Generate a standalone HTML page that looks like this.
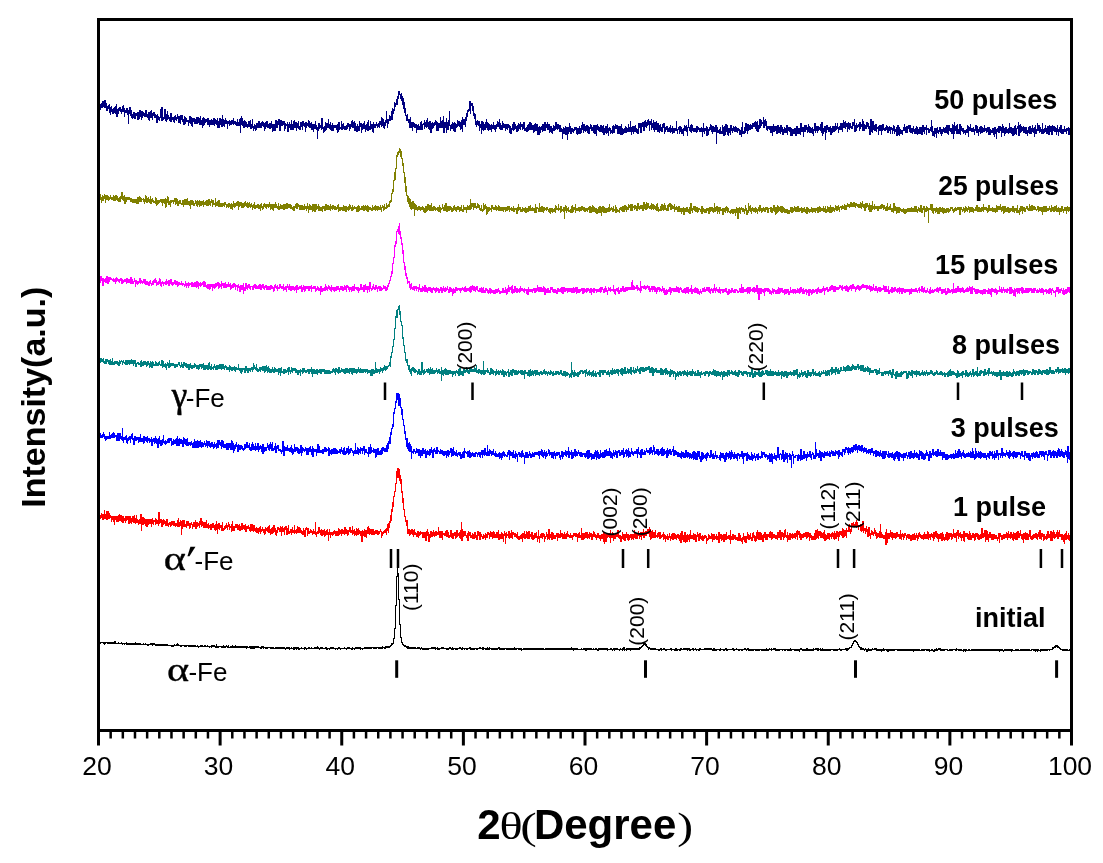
<!DOCTYPE html>
<html><head><meta charset="utf-8"><title>XRD patterns</title>
<style>
html,body{margin:0;padding:0;background:#fff;}
svg{display:block;}
text{font-family:"Liberation Sans",Arial,sans-serif;}
.lb{font-size:27px;font-weight:bold;}
.hk{font-size:21px;}
.tk{font-size:26.5px;}
.gr{font-family:"Liberation Serif",serif;}
</style></head><body>
<svg width="1103" height="863" viewBox="0 0 1103 863">
<rect width="1103" height="863" fill="#fff"/>

<path d="M98.5 105v2m1 -4v4m1 -3v6m1 -7v5m1 -7v7m1 -7v6m1 -7v8m1 -8v8m1 -5v8m1 -5v5m1 -6v4m1 -5v9m1 -6v8m1 -9v6m1 -3v5m1 -6v6m1 -7v6m1 -7v8m1 -10v13m1 -8v8m1 -9v6m1 -7v4m1 -4v5m1 -3v5m1 -8v6m1 -7v7m1 -4v9m1 -7v3m1 -5v5m1 -5v7m1 -5v14m1 -17v7m1 -7v9m1 -6v8m1 -4v5m1 -7v6m1 -6v7m1 -6v6m1 -6v3m1 -4v8m1 -8v8m1 -10v9m1 -9v7m1 -6v9m1 -9v7m1 -6v4m1 -3v4m1 -7v7m1 -7v7m1 -3v4m1 -6v8m1 -8v9m1 -10v7m1 -8v8m1 -5v7m1 -8v4m1 -4v6m1 -4v4m1 -3v8m1 -9v9m1 -7v4m1 -3v4m1 -12v9m1 -11v14m1 -14v14m1 -4v3m1 -11v10m1 -10v12m1 -7v8m1 -11v9m1 -5v4m1 -2v4m1 -8v9m1 -9v9m1 -5v3m1 -3v5m1 -6v7m1 -8v5m1 -3v4m1 -7v5m1 -3v7m1 -7v7m1 -8v9m1 -9v5m1 -5v7m1 -3v6m1 -9v9m1 -8v7m1 -6v4m1 -2v2m1 -2v6m1 -10v7m1 -7v8m1 -7v9m1 -8v9m1 -9v4m1 -4v6m1 -5v5m1 -7v7m1 -7v7m1 -7v6m1 -5v7m1 -9v9m1 -5v5m1 -7v10m1 -11v9m1 -8v7m1 -6v4m1 -4v3m1 -4v7m1 -7v7m1 -5v7m1 -7v5m1 -6v6m1 -5v5m1 -7v7m1 -7v8m1 -7v5m1 -4v5m1 -7v10m1 -7v7m1 -10v10m1 -10v7m1 -6v8m1 -12v12m1 -8v7m1 -6v7m1 -9v6m1 -4v4m1 -3v8m1 -8v3m1 -4v6m1 -5v4m1 -5v5m1 -5v4m1 -6v7m1 -4v3m1 -3v4m1 -3v4m1 -7v7m1 -4v4m1 -7v7m1 -8v15m1 -17v9m1 -7v8m1 -5v7m1 -8v8m1 -7v6m1 -5v5m1 -3v4m1 -7v6m1 -6v6m1 -7v9m1 -5v5m1 -10v9m1 -2v5m1 -7v5m1 -4v6m1 -8v7m1 -7v5m1 -7v7m1 -7v7m1 -5v5m1 -6v6m1 -7v5m1 -4v5m1 -4v8m1 -9v7m1 -8v6m1 -6v7m1 -4v4m1 -5v6m1 -6v6m1 -8v7m1 -4v8m1 -8v7m1 -7v7m1 -11v11m1 -11v8m1 -7v7m1 -9v6m1 -6v12m1 -11v11m1 -11v6m1 -5v5m1 -5v4m1 -4v10m1 -8v6m1 -5v2m1 -4v10m1 -8v8m1 -10v6m1 -4v6m1 -10v10m1 -6v6m1 -9v9m1 -10v8m1 -6v6m1 -6v9m1 -8v5m1 -7v8m1 -3v4m1 -8v8m1 -8v5m1 -6v9m1 -9v5m1 -3v4m1 -5v10m1 -10v6m1 -5v3m1 -6v7m1 -6v7m1 -5v5m1 -6v8m1 -6v6m1 -6v8m1 -8v5m1 -8v8m1 -4v5m1 -3v12m1 -16v8m1 -8v6m1 -4v3m1 -10v12m1 -12v11m1 -2v6m1 -7v6m1 -10v9m1 -8v7m1 -7v5m1 -9v9m1 -4v5m1 -7v8m1 -5v6m1 -8v8m1 -6v6m1 -6v3m1 -3v3m1 -3v5m1 -6v9m1 -11v10m1 -10v8m1 -3v2m1 -8v9m1 -6v6m1 -7v6m1 -3v4m1 -4v4m1 -5v5m1 -7v6m1 -6v4m1 -3v7m1 -7v5m1 -8v6m1 -7v8m1 -6v6m1 -7v10m1 -8v8m1 -5v6m1 -8v8m1 -6v5m1 -10v10m1 -8v4m1 -4v10m1 -9v6m1 -7v6m1 -8v8m1 -4v7m1 -8v6m1 -8v9m1 -11v11m1 -5v4m1 -9v9m1 -6v5m1 -5v8m1 -10v11m1 -9v4m1 -4v4m1 -6v4m1 -2v4m1 -5v4m1 -6v7m1 -7v4m1 -8v10m1 -9v8m1 -7v9m1 -6v7m1 -9v6m1 -15v12m1 -4v9m1 -9v5m1 -9v6m1 -5v5m1 -10v9m1 -12v12m1 -11v5m1 -12v9m1 -8v4m1 -8v6m1 -9v9m1 -14v8m1 -8v4m1 -1v5m1 -6v8m1 -5v9m1 -7v11m1 -7v11m1 -5v8m1 -1v6m1 -7v7m1 -2v4m1 -4v9m1 -11v11m1 -6v6m1 -6v9m1 -9v5m1 -4v5m1 -4v4m1 -4v9m1 -8v5m1 -6v6m1 -4v4m1 -8v8m1 -9v9m1 -6v6m1 -7v2m1 -5v9m1 -7v5m1 -7v8m1 -10v9m1 -5v7m1 -8v9m1 -9v12m1 -10v10m1 -11v7m1 -6v5m1 -6v4m1 -6v5m1 -4v10m1 -9v9m1 -8v8m1 -8v5m1 -11v11m1 -7v7m1 -8v8m1 -12v17m1 -11v11m1 -11v6m1 -10v15m1 -11v8m1 -10v10m1 -19v15m1 -1v6m1 -7v5m1 -7v7m1 -6v8m1 -9v10m1 -9v9m1 -8v4m1 -8v7m1 -6v5m1 -5v6m1 -5v8m1 -10v9m1 -12v15m1 -13v6m1 -6v6m1 -8v10m1 -14v8m1 -11v7m1 -8v3m1 -11v10m1 -10v13m1 -11v3m1 -3v8m1 -5v10m1 -3v6m1 -5v11m1 -4v6m1 -7v5m1 -4v5m1 -5v10m1 -7v4m1 -7v13m1 -13v9m1 -8v9m1 -7v6m1 -8v8m1 -11v9m1 -6v8m1 -7v8m1 -7v6m1 -5v5m1 -6v8m1 -7v4m1 -7v7m1 -4v5m1 -5v7m1 -8v5m1 -8v6m1 -5v5m1 -8v10m1 -6v7m1 -5v5m1 -9v9m1 -7v5m1 -4v4m1 -4v7m1 -7v5m1 -5v6m1 -6v4m1 -3v8m1 -7v8m1 -6v6m1 -10v6m1 -8v9m1 -9v8m1 -6v5m1 -3v6m1 -7v7m1 -9v8m1 -7v5m1 -7v8m1 -6v3m1 -3v6m1 -8v7m1 -7v9m1 -3v3m1 -4v5m1 -7v7m1 -8v7m1 -9v8m1 -8v8m1 -7v7m1 -5v5m1 -5v8m1 -9v8m1 -9v8m1 -7v7m1 -7v11m1 -8v8m1 -9v9m1 -8v6m1 -7v4m1 -6v8m1 -8v7m1 -9v9m1 -9v9m1 -7v4m1 -6v8m1 -6v6m1 -6v9m1 -7v6m1 -6v7m1 -5v6m1 -9v6m1 -5v5m1 -9v8m1 -8v7m1 -5v6m1 -6v5m1 -4v7m1 -7v7m1 -4v4m1 -3v10m1 -12v7m1 -6v6m1 -8v9m1 -8v8m1 -8v13m1 -13v7m1 -11v9m1 -6v8m1 -6v6m1 -6v4m1 -3v4m1 -6v4m1 -4v3m1 -3v7m1 -6v7m1 -7v6m1 -8v8m1 -6v6m1 -9v8m1 -11v8m1 -6v9m1 -9v7m1 -5v6m1 -7v6m1 -6v8m1 -7v8m1 -7v7m1 -10v5m1 -4v6m1 -4v4m1 -6v8m1 -8v9m1 -9v9m1 -9v11m1 -12v6m1 -4v5m1 -4v5m1 -7v7m1 -7v7m1 -6v7m1 -8v10m1 -7v7m1 -9v7m1 -7v8m1 -10v9m1 -5v8m1 -9v4m1 -3v6m1 -4v3m1 -7v8m1 -9v8m1 -7v7m1 -9v5m1 -4v4m1 -4v9m1 -8v8m1 -8v8m1 -8v9m1 -11v11m1 -7v7m1 -6v5m1 -6v5m1 -7v7m1 -6v6m1 -5v4m1 -8v8m1 -5v5m1 -11v11m1 -5v8m1 -9v6m1 -6v8m1 -8v6m1 -7v7m1 -4v5m1 -4v5m1 -11v11m1 -11v5m1 -5v10m1 -10v10m1 -11v5m1 -5v9m1 -10v10m1 -11v7m1 -5v6m1 -8v6m1 -7v6m1 -4v10m1 -10v4m1 -6v11m1 -7v5m1 -8v10m1 -8v10m1 -10v8m1 -9v9m1 -7v9m1 -9v9m1 -7v8m1 -9v7m1 -4v5m1 -8v8m1 -9v5m1 -5v11m1 -7v5m1 -6v4m1 -4v6m1 -4v4m1 -5v5m1 -7v8m1 -5v4m1 -6v8m1 -6v5m1 -5v5m1 -5v3m1 -10v10m1 -2v5m1 -7v3m1 -4v8m1 -8v6m1 -5v7m1 -5v5m1 -6v8m1 -11v6m1 -5v5m1 -6v7m1 -5v9m1 -17v9m1 -1v4m1 -6v7m1 -8v9m1 -8v6m1 -3v4m1 -4v4m1 -4v4m1 -6v7m1 -7v6m1 -5v3m1 -2v4m1 -4v4m1 -5v5m1 -4v9m1 -14v9m1 -4v6m1 -6v3m1 -5v10m1 -9v9m1 -7v6m1 -8v4m1 -7v6m1 -5v7m1 -6v8m1 -8v6m1 -5v5m1 -7v7m1 -7v19m1 -17v6m1 -3v3m1 -4v5m1 -7v7m1 -3v3m1 -9v9m1 -7v9m1 -10v10m1 -12v11m1 -11v8m1 -7v10m1 -7v8m1 -8v5m1 -8v10m1 -10v6m1 -3v5m1 -7v5m1 -4v5m1 -6v6m1 -5v5m1 -4v5m1 -5v3m1 -2v6m1 -5v5m1 -8v10m1 -15v12m1 -3v3m1 -7v7m1 -11v10m1 -10v8m1 -7v10m1 -10v7m1 -6v5m1 -6v6m1 -5v4m1 -6v6m1 -6v4m1 -5v5m1 -6v8m1 -7v9m1 -10v11m1 -7v7m1 -13v10m1 -10v9m1 -8v6m1 -4v2m1 -7v11m1 -8v8m1 -9v7m1 -5v9m1 -4v5m1 -5v3m1 -3v4m1 -4v7m1 -7v7m1 -7v10m1 -12v8m1 -6v6m1 -6v5m1 -5v8m1 -9v9m1 -9v8m1 -6v6m1 -8v9m1 -9v7m1 -5v8m1 -6v6m1 -8v6m1 -5v5m1 -8v8m1 -8v10m1 -8v4m1 -4v5m1 -5v9m1 -8v8m1 -7v7m1 -7v5m1 -6v6m1 -6v8m1 -10v10m1 -10v8m1 -6v6m1 -6v6m1 -11v12m1 -12v9m1 -5v5m1 -5v10m1 -12v7m1 -7v7m1 -7v5m1 -3v6m1 -9v8m1 -6v7m1 -6v6m1 -5v5m1 -6v7m1 -5v7m1 -13v8m1 -8v10m1 -7v5m1 -5v7m1 -7v5m1 -4v3m1 -6v7m1 -9v11m1 -11v14m1 -8v6m1 -8v6m1 -6v14m1 -15v8m1 -8v5m1 -3v5m1 -5v5m1 -6v9m1 -7v7m1 -9v7m1 -7v6m1 -6v6m1 -9v8m1 -5v4m1 -7v6m1 -2v6m1 -7v4m1 -7v7m1 -7v7m1 -7v9m1 -12v8m1 -6v6m1 -7v8m1 -6v4m1 -4v9m1 -10v7m1 -6v7m1 -7v5m1 -2v3m1 -7v7m1 -7v4m1 -7v13m1 -7v7m1 -9v8m1 -6v3m1 -4v3m1 -5v9m1 -9v7m1 -5v3m1 -8v12m1 -10v10m1 -7v7m1 -6v4m1 -7v7m1 -7v5m1 -4v6m1 -3v9m1 -16v16m1 -16v13m1 -11v12m1 -12v9m1 -5v6m1 -7v7m1 -7v8m1 -5v2m1 -3v9m1 -10v6m1 -6v6m1 -6v10m1 -11v7m1 -7v6m1 -2v3m1 -4v4m1 -6v5m1 -4v7m1 -6v6m1 -7v5m1 -4v7m1 -7v3m1 -2v6m1 -9v6m1 -5v8m1 -5v3m1 -5v9m1 -11v11m1 -11v10m1 -8v9m1 -7v5m1 -4v4m1 -4v5m1 -8v4m1 -7v7m1 -4v6m1 -7v7m1 -7v7m1 -8v4m1 -4v7m1 -7v8m1 -5v5m1 -5v6m1 -8v6m1 -3v5m1 -6v6m1 -8v8m1 -7v8m1 -6v5m1 -7v7m1 -7v7m1 -7v8m1 -10v10m1 -10v7m1 -5v7m1 -7v3m1 -5v10m1 -7v2m1 -2v5m1 -4v4m1 -6v4m1 -11v12m1 -6v10m1 -5v5m1 -8v9m1 -9v6m1 -6v10m1 -11v6m1 -3v4m1 -7v5m1 -5v7m1 -5v7m1 -7v5m1 -7v5m1 -4v5m1 -6v6m1 -8v8m1 -8v9m1 -9v10m1 -10v6m1 -3v4m1 -4v6m1 -10v10m1 -9v14m1 -17v12m1 -8v5m1 -6v9m1 -10v10m1 -5v5m1 -10v10m1 -10v11m1 -9v5m1 -3v4m1 -4v6m1 -4v3m1 -3v5m1 -6v4m1 -8v8m1 -7v11m1 -10v4m1 -7v7m1 -3v4m1 -4v4m1 -5v5m1 -3v6m1 -10v6m1 -6v8m1 -7v7m1 -4v7m1 -9v5m1 -6v8m1 -8v7m1 -6v6m1 -5v4m1 -7v7m1 -4v3m1 -3v5m1 -6v5m1 -5v8m1 -8v8m1 -6v6m1 -5v3m1 -5v5m1 -5v7m1 -8v10m1 -10v7m1 -5v10m1 -11v4m1 -6v7m1 -7v7m1 -7v5m1 -4v10m1 -13v9m1 -7v7m1 -5v8m1 -9v7m1 -7v6m1 -4v4m1 -5v6m1 -11v10m1 -6v6m1 -6v7m1 -6v8m1 -8v8m1 -10v9m1 -10v9m1 -6v7m1 -9v3m1 -7v14m1 -11v11m1 -12v9m1 -7v6m1 -5v4m1 -5v7m1 -6v6m1 -6v7m1 -7v7m1 -4v6m1 -9v6m1 -7v8m1 -8v8m1 -6v6m1 -9v7m1 -4v5m1 -6v10m1 -12v9m1 -5v5m1 -11v8m1 -6v6m1 -6v8m1 -6v5m1 -3v5m1 -11v11m1 -5v5m1 -6v5m1 -8v7m1 -4v6m1 -8v8m1 -8v9m1 -10v10m1 -9v6m1 -6v9m1 -10v10m1 -9v5m1 -5v6m1 -5v5m1 -4v7m1 -10v7m1 -3v7m1 -9v5m1 -7v8m1 -8v9m1 -5v5m1 -5v5m1 -8v6m1 -3v3m1 -4v6m1 -6v3m1 -4v8m1 -7v7m1 -7v7m1 -8v8" fill="none" stroke="#000080" stroke-width="1" shape-rendering="crispEdges"/>
<path d="M98.5 197v3m1 -6v8m1 -8v6m1 -3v6m1 -8v6m1 -5v5m1 -7v5m1 -4v8m1 -8v5m1 -5v5m1 -4v5m1 -4v3m1 -5v4m1 -2v3m1 -3v3m1 -5v6m1 -5v5m1 -6v6m1 -6v5m1 -4v5m1 -3v4m1 -5v5m1 -6v6m1 -10v7m1 -7v8m1 -4v5m1 -6v9m1 -7v7m1 -7v5m1 -5v3m1 -3v3m1 -3v3m1 -2v4m1 -4v4m1 -3v4m1 -4v4m1 -4v4m1 -4v4m1 -4v5m1 -7v7m1 -7v7m1 -8v6m1 -5v5m1 -4v4m1 -3v1m1 -2v4m1 -3v5m1 -9v7m1 -6v7m1 -5v5m1 -6v5m1 -3v4m1 -7v8m1 -5v5m1 -6v4m1 -2v3m1 -2v2m1 -6v7m1 -6v8m1 -6v5m1 -5v4m1 -4v3m1 -4v3m1 -3v4m1 -4v7m1 -7v4m1 -4v5m1 -6v10m1 -9v8m1 -11v7m1 -6v8m1 -4v4m1 -5v7m1 -7v3m1 -3v2m1 -2v4m1 -6v4m1 -4v7m1 -7v6m1 -5v7m1 -5v5m1 -6v4m1 -4v4m1 -1v2m1 -5v5m1 -5v7m1 -8v6m1 -6v6m1 -6v6m1 -7v7m1 -4v4m1 -4v5m1 -6v9m1 -9v5m1 -5v5m1 -4v5m1 -3v3m1 -6v4m1 -3v5m1 -6v7m1 -6v4m1 -5v7m1 -6v5m1 -5v5m1 -5v4m1 -5v7m1 -5v3m1 -4v4m1 -5v6m1 -6v6m1 -7v7m1 -7v6m1 -4v5m1 -7v4m1 -3v7m1 -7v5m1 -2v2m1 -7v9m1 -5v4m1 -5v5m1 -6v7m1 -7v7m1 -4v4m1 -4v4m1 -4v4m1 -4v3m1 -4v5m1 -5v3m1 -1v4m1 -4v3m1 -4v5m1 -5v4m1 -3v5m1 -6v6m1 -5v6m1 -9v6m1 -4v5m1 -5v4m1 -5v4m1 -5v5m1 -5v9m1 -8v5m1 -5v4m1 -4v6m1 -5v5m1 -5v5m1 -6v5m1 -6v5m1 -3v4m1 -5v6m1 -5v5m1 -6v5m1 -3v4m1 -5v4m1 -2v5m1 -6v4m1 -6v7m1 -4v4m1 -4v3m1 -4v4m1 -4v5m1 -4v4m1 -5v7m1 -8v5m1 -2v4m1 -6v5m1 -6v4m1 -3v4m1 -4v5m1 -5v3m1 -3v4m1 -6v5m1 -3v6m1 -6v5m1 -5v6m1 -6v7m1 -7v4m1 -6v6m1 -4v4m1 -2v3m1 -6v7m1 -4v4m1 -6v5m1 -4v4m1 -4v4m1 -5v6m1 -6v6m1 -6v5m1 -6v6m1 -6v6m1 -5v4m1 -4v4m1 -4v5m1 -4v4m1 -2v3m1 -4v5m1 -5v5m1 -7v4m1 -5v6m1 -6v6m1 -5v3m1 -2v5m1 -5v5m1 -5v5m1 -5v5m1 -4v4m1 -6v6m1 -4v3m1 -3v5m1 -8v6m1 -3v7m1 -9v6m1 -5v5m1 -4v4m1 -6v8m1 -8v7m1 -7v8m1 -8v8m1 -8v6m1 -4v3m1 -5v7m1 -5v5m1 -4v4m1 -4v4m1 -5v6m1 -6v3m1 -3v5m1 -7v7m1 -7v6m1 -5v5m1 -5v5m1 -4v4m1 -6v7m1 -5v3m1 -4v5m1 -5v4m1 -3v4m1 -4v4m1 -3v3m1 -5v4m1 -5v8m1 -5v4m1 -4v4m1 -4v3m1 -3v4m1 -6v6m1 -5v5m1 -5v6m1 -6v6m1 -5v3m1 -4v5m1 -7v6m1 -5v4m1 -2v4m1 -6v6m1 -4v3m1 -4v3m1 -2v2m1 -2v5m1 -6v6m1 -7v7m1 -6v5m1 -3v2m1 -4v4m1 -4v4m1 -5v6m1 -5v5m1 -6v5m1 -4v5m1 -6v7m1 -6v6m1 -5v3m1 -3v3m1 -2v3m1 -6v6m1 -4v3m1 -4v4m1 -5v6m1 -5v4m1 -4v5m1 -5v4m1 -3v3m1 -5v5m1 -3v5m1 -7v3m1 -2v5m1 -7v6m1 -3v2m1 -6v6m1 -4v3m1 -4v3m1 -6v6m1 -7v3m1 -10v9m1 -13v5m1 -14v12m1 -20v9m1 -13v12m1 -25v14m1 -17v5m1 -6v4m1 -7v5m1 -4v8m1 -6v8m1 -1v8m1 -3v10m1 -1v11m1 -6v15m1 -6v10m1 -1v7m1 -6v8m1 -6v9m1 -8v10m1 -7v8m1 -9v8m1 -8v8m1 -6v13m1 -12v6m1 -5v5m1 -3v4m1 -5v4m1 -4v4m1 -3v4m1 -4v3m1 -4v4m1 -3v5m1 -4v5m1 -7v7m1 -7v6m1 -8v7m1 -7v6m1 -5v6m1 -6v6m1 -8v8m1 -4v4m1 -5v5m1 -5v4m1 -3v4m1 -3v2m1 -3v4m1 -4v5m1 -7v7m1 -5v6m1 -5v2m1 -6v5m1 -2v4m1 -6v6m1 -8v8m1 -8v9m1 -6v6m1 -6v5m1 -5v5m1 -5v4m1 -3v5m1 -4v4m1 -6v5m1 -6v5m1 -3v4m1 -4v5m1 -6v4m1 -4v4m1 -3v5m1 -5v4m1 -6v6m1 -2v3m1 -7v7m1 -5v3m1 -3v3m1 -3v6m1 -8v5m1 -4v4m1 -5v5m1 -11v11m1 -7v6m1 -6v4m1 -4v7m1 -7v5m1 -5v5m1 -2v3m1 -6v5m1 -4v4m1 -3v5m1 -2v3m1 -6v6m1 -2v3m1 -9v8m1 -6v5m1 -6v5m1 -3v9m1 -8v7m1 -7v5m1 -5v4m1 -3v2m1 -5v7m1 -7v4m1 -2v3m1 -3v3m1 -5v5m1 -4v5m1 -4v3m1 -5v6m1 -5v5m1 -4v4m1 -4v4m1 -4v4m1 -4v5m1 -5v3m1 -3v5m1 -5v4m1 -5v5m1 -5v4m1 -4v6m1 -4v2m1 -3v4m1 -3v3m1 -5v6m1 -4v4m1 -4v2m1 -2v6m1 -7v7m1 -10v7m1 -4v3m1 -3v5m1 -3v3m1 -5v5m1 -4v3m1 -3v4m1 -5v6m1 -5v5m1 -5v4m1 -6v6m1 -6v5m1 -6v6m1 -3v3m1 -4v4m1 -3v3m1 -3v5m1 -9v9m1 -6v6m1 -6v2m1 -1v4m1 -9v9m1 -5v5m1 -6v6m1 -6v6m1 -5v6m1 -6v4m1 -3v2m1 -3v4m1 -4v3m1 -1v3m1 -4v5m1 -5v6m1 -6v4m1 -4v5m1 -4v3m1 -4v4m1 -7v8m1 -7v4m1 -2v2m1 -6v7m1 -3v2m1 -4v7m1 -7v6m1 -3v2m1 -4v5m1 -5v12m1 -14v6m1 -5v7m1 -5v3m1 -4v5m1 -2v2m1 -3v4m1 -7v7m1 -8v8m1 -6v5m1 -5v3m1 -6v9m1 -5v3m1 -3v3m1 -4v4m1 -4v5m1 -5v4m1 -5v5m1 -5v4m1 -3v4m1 -4v5m1 -4v4m1 -4v3m1 -3v4m1 -5v3m1 -4v7m1 -7v7m1 -6v6m1 -8v7m1 -6v6m1 -5v5m1 -4v5m1 -5v6m1 -5v5m1 -7v6m1 -7v7m1 -7v7m1 -6v9m1 -10v6m1 -6v7m1 -6v6m1 -5v5m1 -5v5m1 -5v4m1 -5v5m1 -8v8m1 -4v3m1 -4v3m1 -2v4m1 -6v6m1 -3v2m1 -6v8m1 -6v6m1 -4v3m1 -2v2m1 -4v5m1 -6v3m1 -3v4m1 -5v6m1 -6v6m1 -7v7m1 -7v5m1 -4v6m1 -5v3m1 -6v6m1 -5v3m1 -4v7m1 -7v7m1 -7v7m1 -5v2m1 -3v5m1 -5v4m1 -3v5m1 -8v8m1 -8v6m1 -3v4m1 -5v4m1 -4v4m1 -4v6m1 -9v9m1 -9v7m1 -5v6m1 -8v8m1 -7v6m1 -6v5m1 -2v3m1 -4v4m1 -6v7m1 -6v5m1 -5v6m1 -5v4m1 -3v4m1 -6v7m1 -8v8m1 -4v5m1 -3v2m1 -5v5m1 -7v7m1 -7v6m1 -5v6m1 -8v7m1 -5v5m1 -2v3m1 -6v6m1 -7v7m1 -8v4m1 -4v7m1 -6v6m1 -5v4m1 -3v3m1 -5v8m1 -5v3m1 -4v4m1 -3v5m1 -6v6m1 -6v6m1 -4v4m1 -4v6m1 -6v4m1 -5v8m1 -7v7m1 -7v4m1 -5v5m1 -5v5m1 -3v4m1 -6v7m1 -11v11m1 -11v8m1 -3v5m1 -7v4m1 -4v5m1 -5v6m1 -5v5m1 -5v6m1 -5v4m1 -4v2m1 -1v3m1 -6v8m1 -8v8m1 -6v4m1 -3v4m1 -4v4m1 -5v5m1 -5v3m1 -3v6m1 -7v7m1 -7v5m1 -5v4m1 -4v5m1 -4v5m1 -10v9m1 -5v5m1 -6v5m1 -5v8m1 -7v5m1 -5v7m1 -7v4m1 -2v2m1 -3v7m1 -7v7m1 -7v4m1 -5v6m1 -7v5m1 -4v6m1 -5v4m1 -1v2m1 -3v4m1 -5v4m1 -4v5m1 -5v5m1 -5v4m1 -4v7m1 -9v6m1 -5v11m1 -11v11m1 -12v6m1 -5v6m1 -7v3m1 -2v4m1 -4v4m1 -3v5m1 -9v6m1 -3v7m1 -5v5m1 -12v10m1 -7v5m1 -6v7m1 -4v6m1 -7v4m1 -3v4m1 -4v4m1 -5v6m1 -5v4m1 -3v5m1 -7v4m1 -6v7m1 -7v6m1 -3v5m1 -5v4m1 -5v4m1 -3v4m1 -5v5m1 -5v3m1 -3v6m1 -5v5m1 -5v1m1 -2v5m1 -5v6m1 -5v5m1 -8v6m1 -6v7m1 -5v8m1 -8v7m1 -9v8m1 -7v6m1 -5v4m1 -5v6m1 -6v7m1 -7v7m1 -6v5m1 -4v5m1 -4v4m1 -4v4m1 -4v5m1 -4v4m1 -4v4m1 -7v5m1 -5v6m1 -6v6m1 -5v4m1 -6v5m1 -4v5m1 -5v5m1 -6v6m1 -6v6m1 -4v4m1 -4v3m1 -4v6m1 -5v5m1 -5v4m1 -5v5m1 -3v4m1 -6v7m1 -7v7m1 -6v4m1 -3v4m1 -4v3m1 -5v5m1 -4v5m1 -5v4m1 -4v4m1 -4v5m1 -5v3m1 -4v6m1 -6v6m1 -7v6m1 -5v5m1 -4v3m1 -3v3m1 -5v6m1 -4v4m1 -6v7m1 -4v4m1 -7v6m1 -5v5m1 -5v6m1 -8v8m1 -6v6m1 -6v5m1 -5v4m1 -3v4m1 -7v5m1 -4v5m1 -5v5m1 -6v5m1 -3v5m1 -6v2m1 -2v4m1 -5v4m1 -3v3m1 -5v6m1 -5v5m1 -5v5m1 -7v4m1 -3v3m1 -3v4m1 -6v5m1 -5v5m1 -4v4m1 -5v5m1 -5v5m1 -4v5m1 -5v3m1 -2v3m1 -3v4m1 -4v4m1 -6v6m1 -5v6m1 -8v6m1 -3v4m1 -4v7m1 -8v8m1 -8v5m1 -5v4m1 -2v5m1 -7v9m1 -7v7m1 -7v7m1 -11v9m1 -4v3m1 -5v6m1 -4v3m1 -3v3m1 -3v5m1 -5v5m1 -5v3m1 -4v4m1 -5v5m1 -5v4m1 -3v5m1 -5v4m1 -2v4m1 -5v5m1 -8v8m1 -4v3m1 -4v4m1 -6v6m1 -2v4m1 -4v4m1 -9v10m1 -10v8m1 -5v5m1 -4v7m1 -7v6m1 -6v6m1 -6v6m1 -5v3m1 -2v3m1 -3v3m1 -4v5m1 -4v5m1 -5v5m1 -5v4m1 -5v4m1 -4v4m1 -4v4m1 -4v4m1 -5v5m1 -4v4m1 -4v4m1 -6v6m1 -6v6m1 -6v6m1 -3v4m1 -6v4m1 -3v4m1 -7v7m1 -7v8m1 -5v5m1 -7v4m1 -4v11m1 -9v4m1 -6v6m1 -5v4m1 -3v15m1 -15v2m1 -6v6m1 -6v7m1 -7v9m1 -5v6m1 -6v3m1 -3v5m1 -6v5m1 -4v6m1 -6v6m1 -7v7m1 -7v5m1 -4v4m1 -5v6m1 -5v6m1 -6v5m1 -4v4m1 -5v5m1 -5v4m1 -4v5m1 -4v3m1 -5v4m1 -4v2m1 -2v4m1 -2v4m1 -5v4m1 -5v4m1 -3v3m1 -4v3m1 -3v3m1 -3v8m1 -8v8m1 -8v3m1 -1v3m1 -5v4m1 -3v5m1 -7v6m1 -5v4m1 -3v4m1 -6v4m1 -3v6m1 -6v5m1 -5v5m1 -5v5m1 -4v5m1 -4v2m1 -4v4m1 -6v6m1 -6v7m1 -5v5m1 -5v5m1 -4v4m1 -5v5m1 -5v4m1 -7v8m1 -5v3m1 -3v3m1 -3v4m1 -3v5m1 -8v7m1 -7v6m1 -3v3m1 -3v3m1 -4v5m1 -4v4m1 -4v4m1 -4v5m1 -8v7m1 -6v6m1 -6v4m1 -4v4m1 -6v6m1 -3v5m1 -6v5m1 -5v8m1 -8v7m1 -7v6m1 -4v4m1 -5v5m1 -5v6m1 -5v5m1 -5v4m1 -4v3m1 -5v6m1 -6v6m1 -4v5m1 -5v3m1 -3v5m1 -8v8m1 -3v3m1 -5v7m1 -9v6m1 -6v5m1 -5v8m1 -7v4m1 -4v5m1 -4v4m1 -6v3m1 -3v4m1 -2v3m1 -7v7m1 -5v5m1 -6v6m1 -6v6m1 -5v4m1 -4v4m1 -3v3m1 -1v2m1 -5v4m1 -4v6m1 -5v4m1 -4v4m1 -4v5m1 -5v8m1 -9v6m1 -6v6m1 -6v6m1 -6v6m1 -4v3m1 -3v3m1 -5v4m1 -2v4m1 -7v7m1 -5v4m1 -4v5m1 -6v6m1 -6v5m1 -6v7m1 -4v4m1 -5v5m1 -4v7m1 -7v4m1 -6v6m1 -6v5m1 -2v4m1 -6v4m1 -4v4m1 -4v7m1 -8v5m1 -4v5m1 -5v4m1 -3v3m1 -3v6" fill="none" stroke="#808000" stroke-width="1" shape-rendering="crispEdges"/>
<path d="M98.5 277v4m1 -5v6m1 -6v7m1 -7v5m1 -3v8m1 -8v8m1 -7v3m1 -4v5m1 -7v7m1 -7v8m1 -7v7m1 -7v5m1 -5v3m1 -2v2m1 -1v2m1 -3v4m1 -3v3m1 -4v6m1 -7v5m1 -4v3m1 -2v3m1 -3v4m1 -5v3m1 -3v6m1 -5v5m1 -4v3m1 -4v3m1 -3v3m1 -4v6m1 -6v5m1 -4v4m1 -4v4m1 -6v7m1 -7v7m1 -5v5m1 -3v3m1 -6v4m1 -2v7m1 -7v4m1 -3v4m1 -4v3m1 -6v5m1 -5v6m1 -4v3m1 -2v3m1 -5v4m1 -4v5m1 -5v6m1 -4v4m1 -4v4m1 -3v4m1 -5v5m1 -6v4m1 -1v3m1 -5v4m1 -5v5m1 -6v4m1 -5v5m1 -3v6m1 -4v3m1 -4v4m1 -7v6m1 -5v7m1 -4v5m1 -6v3m1 -2v4m1 -4v2m1 -3v4m1 -6v6m1 -4v3m1 -4v6m1 -6v6m1 -7v5m1 -5v6m1 -3v4m1 -4v3m1 -5v4m1 -4v5m1 -4v4m1 -4v6m1 -5v4m1 -4v3m1 -2v2m1 -4v4m1 -2v3m1 -3v2m1 -1v3m1 -6v5m1 -3v5m1 -5v3m1 -4v6m1 -5v3m1 -3v2m1 -3v5m1 -5v5m1 -4v4m1 -5v5m1 -5v5m1 -6v7m1 -7v6m1 -5v7m1 -6v3m1 -4v5m1 -4v3m1 -4v3m1 -4v6m1 -6v6m1 -5v5m1 -2v3m1 -4v5m1 -5v5m1 -5v6m1 -6v5m1 -5v3m1 -3v7m1 -7v4m1 -4v5m1 -6v5m1 -5v4m1 -5v4m1 -4v7m1 -6v5m1 -4v3m1 -6v8m1 -6v3m1 -3v5m1 -5v5m1 -6v6m1 -4v4m1 -4v3m1 -5v5m1 -3v3m1 -4v7m1 -5v4m1 -5v4m1 -5v5m1 -5v4m1 -3v6m1 -5v2m1 -2v6m1 -7v4m1 -2v6m1 -7v7m1 -7v5m1 -5v5m1 -7v11m1 -7v4m1 -8v8m1 -8v6m1 -4v5m1 -6v4m1 -4v5m1 -3v4m1 -4v1m1 -1v4m1 -5v5m1 -6v4m1 -4v5m1 -4v4m1 -3v3m1 -4v4m1 -5v5m1 -5v6m1 -5v5m1 -6v4m1 -4v5m1 -3v4m1 -5v3m1 -3v5m1 -4v4m1 -4v4m1 -4v4m1 -5v5m1 -5v4m1 -3v3m1 -2v5m1 -7v6m1 -7v4m1 -2v3m1 -4v6m1 -4v2m1 -5v5m1 -5v4m1 -2v3m1 -3v3m1 -5v7m1 -4v3m1 -4v4m1 -4v6m1 -8v4m1 -2v4m1 -6v6m1 -4v5m1 -5v5m1 -5v4m1 -4v4m1 -3v4m1 -5v4m1 -5v8m1 -8v5m1 -3v3m1 -4v3m1 -3v3m1 -4v7m1 -5v5m1 -7v5m1 -4v6m1 -6v5m1 -5v3m1 -3v3m1 -3v5m1 -5v5m1 -5v3m1 -4v7m1 -5v2m1 -3v3m1 -3v3m1 -3v6m1 -4v3m1 -5v4m1 -3v4m1 -3v3m1 -5v9m1 -9v6m1 -4v4m1 -4v3m1 -4v4m1 -7v7m1 -5v4m1 -3v4m1 -6v4m1 -3v4m1 -3v4m1 -6v7m1 -5v3m1 -3v4m1 -4v5m1 -5v4m1 -5v5m1 -5v4m1 -4v4m1 -2v4m1 -6v4m1 -4v4m1 -4v5m1 -4v4m1 -6v5m1 -4v4m1 -5v7m1 -7v3m1 -2v4m1 -3v5m1 -5v3m1 -3v5m1 -6v5m1 -5v5m1 -7v7m1 -4v2m1 -2v3m1 -3v4m1 -4v6m1 -5v3m1 -7v6m1 -6v6m1 -3v3m1 -5v7m1 -7v7m1 -8v6m1 -4v4m1 -4v7m1 -7v4m1 -8v10m1 -10v7m1 -1v3m1 -5v4m1 -6v5m1 -2v3m1 -5v5m1 -5v4m1 -2v5m1 -6v3m1 -3v5m1 -5v5m1 -4v4m1 -3v2m1 -5v4m1 -3v3m1 -3v5m1 -4v4m1 -6v5m1 -7v4m1 -7v4m1 -8v5m1 -10v6m1 -14v11m1 -17v7m1 -19v13m1 -17v6m1 -16v13m1 -15v3m1 -6v8m1 -11v12m1 -4v8m1 -2v8m1 -2v11m1 -4v13m1 -1v8m1 -4v10m1 -3v6m1 -2v7m1 -3v2m1 -2v7m1 -4v6m1 -7v6m1 -2v3m1 -4v4m1 -4v5m1 -5v3m1 -3v5m1 -4v2m1 -2v5m1 -8v6m1 -2v4m1 -4v4m1 -6v6m1 -5v4m1 -6v7m1 -7v7m1 -5v5m1 -4v5m1 -6v4m1 -4v4m1 -4v5m1 -4v5m1 -5v5m1 -6v3m1 -2v3m1 -3v5m1 -6v5m1 -4v3m1 -3v5m1 -4v4m1 -6v4m1 -4v6m1 -5v5m1 -7v5m1 -3v4m1 -5v5m1 -4v3m1 -5v4m1 -1v4m1 -6v6m1 -6v5m1 -4v4m1 -3v7m1 -8v6m1 -5v4m1 -6v6m1 -6v4m1 -3v3m1 -3v2m1 -2v3m1 -3v5m1 -5v3m1 -4v3m1 -2v3m1 -4v5m1 -6v6m1 -4v4m1 -4v3m1 -3v3m1 -4v5m1 -6v7m1 -7v6m1 -7v5m1 -4v5m1 -5v5m1 -4v5m1 -6v4m1 -4v5m1 -1v2m1 -4v4m1 -4v4m1 -5v6m1 -5v5m1 -6v6m1 -3v3m1 -5v5m1 -5v3m1 -2v4m1 -3v4m1 -6v5m1 -5v6m1 -5v4m1 -3v3m1 -3v4m1 -4v4m1 -5v5m1 -5v4m1 -4v4m1 -5v4m1 -2v4m1 -3v3m1 -3v2m1 -5v5m1 -5v5m1 -3v3m1 -6v6m1 -4v6m1 -7v6m1 -9v7m1 -5v5m1 -5v3m1 -4v7m1 -8v9m1 -5v4m1 -7v7m1 -7v6m1 -4v5m1 -5v5m1 -4v3m1 -4v5m1 -7v6m1 -4v3m1 -3v3m1 -2v3m1 -4v5m1 -4v2m1 -2v5m1 -5v6m1 -8v8m1 -6v3m1 -3v3m1 -3v3m1 -3v4m1 -5v3m1 -3v5m1 -5v5m1 -5v4m1 -7v6m1 -4v5m1 -5v5m1 -5v5m1 -5v5m1 -4v4m1 -6v6m1 -5v8m1 -7v7m1 -6v4m1 -5v5m1 -5v5m1 -3v3m1 -6v6m1 -6v3m1 -3v5m1 -3v4m1 -4v4m1 -4v4m1 -3v4m1 -6v6m1 -6v4m1 -3v3m1 -4v4m1 -5v6m1 -6v7m1 -7v7m1 -7v5m1 -4v4m1 -4v3m1 -3v5m1 -5v4m1 -4v4m1 -4v4m1 -4v5m1 -5v5m1 -6v6m1 -5v5m1 -6v5m1 -5v7m1 -7v6m1 -4v4m1 -4v4m1 -4v3m1 -4v3m1 -3v6m1 -6v6m1 -6v5m1 -4v3m1 -4v5m1 -5v4m1 -4v3m1 -2v4m1 -5v5m1 -5v7m1 -6v3m1 -4v5m1 -5v5m1 -4v2m1 -2v4m1 -4v3m1 -3v3m1 -4v4m1 -5v6m1 -6v5m1 -5v3m1 -1v4m1 -5v5m1 -7v6m1 -4v4m1 -2v5m1 -8v4m1 -3v3m1 -4v5m1 -3v2m1 -2v2m1 -6v7m1 -3v5m1 -5v6m1 -7v3m1 -3v4m1 -5v7m1 -4v4m1 -6v4m1 -4v4m1 -6v5m1 -5v6m1 -4v4m1 -5v5m1 -5v4m1 -4v4m1 -4v3m1 -3v3m1 -3v3m1 -8v8m1 -10v10m1 -5v5m1 -4v4m1 -3v2m1 -4v4m1 -4v6m1 -4v3m1 -2v3m1 -10v12m1 -7v5m1 -5v2m1 -2v3m1 -4v4m1 -3v4m1 -4v3m1 -4v3m1 -2v4m1 -4v6m1 -4v4m1 -6v4m1 -4v6m1 -6v4m1 -4v6m1 -5v5m1 -4v6m1 -7v5m1 -5v3m1 -3v5m1 -4v3m1 -2v3m1 -6v5m1 -3v5m1 -5v7m1 -5v5m1 -6v6m1 -5v4m1 -5v3m1 -5v5m1 -5v8m1 -7v5m1 -5v3m1 -3v4m1 -4v4m1 -4v4m1 -6v6m1 -5v5m1 -5v6m1 -5v5m1 -6v3m1 -2v4m1 -2v3m1 -4v4m1 -5v5m1 -5v6m1 -7v6m1 -6v6m1 -6v7m1 -5v3m1 -4v4m1 -7v9m1 -5v5m1 -5v3m1 -4v5m1 -6v6m1 -5v5m1 -5v6m1 -5v5m1 -3v4m1 -6v4m1 -2v3m1 -6v4m1 -4v4m1 -5v5m1 -3v3m1 -5v4m1 -4v4m1 -4v5m1 -5v6m1 -4v5m1 -6v3m1 -2v4m1 -5v5m1 -9v7m1 -3v5m1 -6v4m1 -2v3m1 -3v4m1 -6v6m1 -4v5m1 -5v2m1 -2v4m1 -4v4m1 -4v3m1 -4v4m1 -4v5m1 -2v4m1 -6v6m1 -6v5m1 -4v3m1 -5v5m1 -5v4m1 -2v3m1 -4v4m1 -4v4m1 -4v2m1 -1v3m1 -2v2m1 -5v4m1 -4v5m1 -9v9m1 -6v6m1 -6v6m1 -4v3m1 -3v3m1 -4v4m1 -5v7m1 -7v6m1 -6v7m1 -7v5m1 -3v2m1 -3v4m1 -5v5m1 -5v6m1 -5v4m1 -7v7m1 -7v9m1 -6v12m1 -12v12m1 -12v6m1 -6v6m1 -5v3m1 -3v4m1 -5v8m1 -8v4m1 -4v3m1 -3v4m1 -4v4m1 -3v5m1 -4v4m1 -3v4m1 -7v5m1 -4v5m1 -5v3m1 -2v4m1 -4v4m1 -5v5m1 -7v7m1 -6v6m1 -6v5m1 -5v4m1 -4v5m1 -3v3m1 -4v6m1 -6v5m1 -5v5m1 -5v4m1 -4v6m1 -4v4m1 -8v6m1 -3v3m1 -4v4m1 -4v5m1 -5v4m1 -4v5m1 -4v3m1 -5v5m1 -4v4m1 -5v6m1 -7v6m1 -6v5m1 -3v5m1 -6v6m1 -4v4m1 -5v3m1 -3v6m1 -5v3m1 -4v7m1 -7v7m1 -7v4m1 -3v5m1 -6v5m1 -5v4m1 -3v3m1 -4v3m1 -3v5m1 -6v6m1 -7v5m1 -3v4m1 -4v4m1 -4v4m1 -5v4m1 -6v5m1 -3v7m1 -7v3m1 -4v3m1 -3v5m1 -3v3m1 -5v4m1 -5v5m1 -6v5m1 -5v5m1 -4v6m1 -6v6m1 -6v6m1 -5v3m1 -3v3m1 -3v3m1 -5v4m1 -4v3m1 -2v4m1 -5v6m1 -4v2m1 -3v3m1 -3v5m1 -6v6m1 -5v6m1 -5v5m1 -6v4m1 -5v4m1 -4v6m1 -7v5m1 -5v5m1 -3v3m1 -2v5m1 -6v4m1 -5v4m1 -4v5m1 -4v5m1 -5v4m1 -5v4m1 -5v4m1 -4v4m1 -3v3m1 -3v3m1 -3v5m1 -5v4m1 -3v3m1 -4v5m1 -4v6m1 -6v5m1 -4v4m1 -7v6m1 -2v3m1 -5v5m1 -5v5m1 -3v5m1 -6v4m1 -4v5m1 -5v5m1 -4v3m1 -3v2m1 -5v5m1 -4v6m1 -6v6m1 -6v6m1 -3v3m1 -6v8m1 -4v4m1 -5v3m1 -5v6m1 -6v6m1 -5v4m1 -5v5m1 -5v4m1 -2v3m1 -4v5m1 -5v4m1 -5v7m1 -6v4m1 -4v6m1 -6v6m1 -6v4m1 -3v4m1 -4v4m1 -4v3m1 -3v3m1 -3v3m1 -3v6m1 -6v5m1 -6v6m1 -5v3m1 -3v3m1 -3v3m1 -4v4m1 -4v4m1 -2v3m1 -5v3m1 -4v6m1 -4v2m1 -5v6m1 -6v6m1 -4v5m1 -6v5m1 -2v3m1 -3v3m1 -5v4m1 -1v2m1 -4v5m1 -7v7m1 -4v3m1 -4v4m1 -3v3m1 -4v3m1 -3v2m1 -3v4m1 -5v5m1 -4v5m1 -6v4m1 -4v4m1 -2v5m1 -5v5m1 -5v4m1 -4v4m1 -5v7m1 -4v4m1 -7v6m1 -6v5m1 -4v4m1 -3v3m1 -4v3m1 -3v5m1 -11v10m1 -4v4m1 -5v5m1 -5v5m1 -7v6m1 -6v6m1 -4v4m1 -4v5m1 -5v4m1 -5v5m1 -4v5m1 -3v3m1 -4v3m1 -4v4m1 -5v5m1 -4v4m1 -6v5m1 -4v7m1 -7v7m1 -8v8m1 -6v2m1 -2v4m1 -3v5m1 -5v5m1 -5v5m1 -5v4m1 -3v3m1 -3v4m1 -4v4m1 -4v5m1 -6v5m1 -5v5m1 -5v5m1 -4v2m1 -2v4m1 -6v6m1 -5v5m1 -5v6m1 -7v9m1 -9v4m1 -3v3m1 -3v4m1 -5v5m1 -4v6m1 -5v4m1 -4v2m1 -6v6m1 -3v3m1 -5v6m1 -4v4m1 -6v4m1 -2v4m1 -4v3m1 -3v4m1 -5v5m1 -4v2m1 -4v7m1 -7v7m1 -7v7m1 -5v4m1 -3v6m1 -8v8m1 -7v8m1 -9v4m1 -4v6m1 -6v5m1 -5v6m1 -6v3m1 -4v6m1 -6v7m1 -6v5m1 -3v3m1 -5v5m1 -5v5m1 -5v5m1 -5v5m1 -5v4m1 -4v3m1 -3v5m1 -4v4m1 -5v5m1 -5v5m1 -5v3m1 -1v3m1 -4v4m1 -3v3m1 -5v4m1 -3v4m1 -5v5m1 -5v5m1 -4v6m1 -5v2m1 -3v3m1 -3v5m1 -4v3m1 -4v5m1 -6v6m1 -6v5m1 -4v6m1 -7v3m1 -1v3m1 -2v2m1 -3v7m1 -10v5m1 -5v5m1 -5v7m1 -5v4m1 -4v4m1 -5v3m1 -1v4m1 -6v7m1 -5v5m1 -6v5m1 -5v5m1 -7v6m1 -6v5m1 -5v6m1 -4v8m1 -8v3" fill="none" stroke="#FF00FF" stroke-width="1" shape-rendering="crispEdges"/>
<path d="M98.5 359v1m1 -1v5m1 -6v5m1 -5v4m1 -3v3m1 -4v5m1 -2v3m1 -5v5m1 -5v5m1 -5v3m1 -2v4m1 -4v5m1 -6v6m1 -4v4m1 -7v7m1 -3v3m1 -4v4m1 -4v3m1 -3v3m1 -3v4m1 -3v4m1 -6v6m1 -5v3m1 -4v2m1 -1v4m1 -5v3m1 -1v2m1 -4v5m1 -5v5m1 -5v5m1 -5v4m1 -4v5m1 -5v4m1 -5v5m1 -4v4m1 -4v6m1 -6v4m1 -4v7m1 -4v4m1 -5v2m1 -2v3m1 -2v2m1 -4v6m1 -7v7m1 -5v4m1 -5v5m1 -5v4m1 -4v4m1 -3v5m1 -6v5m1 -5v4m1 -2v5m1 -7v6m1 -5v6m1 -7v7m1 -6v4m1 -2v2m1 -5v5m1 -4v4m1 -3v3m1 -4v4m1 -5v4m1 -1v2m1 -6v6m1 -6v8m1 -7v6m1 -3v3m1 -4v5m1 -4v6m1 -8v4m1 -3v5m1 -8v8m1 -5v4m1 -4v3m1 -3v3m1 -3v3m1 -2v4m1 -4v4m1 -4v3m1 -3v3m1 -5v3m1 -3v4m1 -1v3m1 -6v5m1 -3v4m1 -6v6m1 -6v4m1 -3v4m1 -4v5m1 -4v4m1 -4v6m1 -6v6m1 -7v5m1 -3v4m1 -4v4m1 -4v3m1 -5v5m1 -4v3m1 -2v4m1 -4v4m1 -4v5m1 -6v5m1 -5v3m1 -3v5m1 -5v4m1 -5v7m1 -5v5m1 -5v5m1 -5v4m1 -4v5m1 -7v7m1 -8v7m1 -3v4m1 -6v6m1 -3v2m1 -3v4m1 -6v4m1 -2v4m1 -5v5m1 -5v5m1 -5v4m1 -5v5m1 -5v5m1 -5v6m1 -6v5m1 -5v5m1 -3v4m1 -5v3m1 -2v4m1 -3v3m1 -3v3m1 -5v7m1 -6v4m1 -3v4m1 -4v4m1 -4v3m1 -4v5m1 -4v5m1 -5v3m1 -2v2m1 -6v6m1 -2v3m1 -3v5m1 -5v6m1 -6v4m1 -4v2m1 -2v5m1 -7v7m1 -7v5m1 -3v5m1 -5v5m1 -5v3m1 -3v4m1 -5v3m1 -3v5m1 -9v7m1 -5v4m1 -2v3m1 -6v7m1 -3v4m1 -3v3m1 -5v4m1 -4v5m1 -5v3m1 -4v5m1 -5v5m1 -5v7m1 -7v6m1 -7v6m1 -4v6m1 -7v6m1 -4v5m1 -4v4m1 -4v4m1 -6v5m1 -3v4m1 -6v6m1 -5v4m1 -3v3m1 -3v3m1 -4v7m1 -7v5m1 -5v8m1 -9v6m1 -2v2m1 -4v5m1 -5v5m1 -5v4m1 -3v3m1 -5v4m1 -5v8m1 -8v5m1 -2v4m1 -7v5m1 -4v5m1 -5v3m1 -3v3m1 -3v5m1 -4v4m1 -3v5m1 -5v5m1 -5v3m1 -4v7m1 -6v2m1 -4v6m1 -6v5m1 -5v4m1 -2v3m1 -3v3m1 -4v3m1 -3v5m1 -5v5m1 -5v3m1 -5v7m1 -5v8m1 -8v5m1 -5v5m1 -4v4m1 -5v5m1 -5v6m1 -5v3m1 -4v4m1 -4v5m1 -5v5m1 -5v3m1 -3v3m1 -3v5m1 -4v4m1 -4v4m1 -4v4m1 -4v4m1 -4v4m1 -3v3m1 -3v2m1 -4v4m1 -5v4m1 -3v4m1 -5v7m1 -7v4m1 -3v4m1 -6v7m1 -7v6m1 -3v3m1 -5v4m1 -3v3m1 -3v4m1 -4v5m1 -6v6m1 -6v5m1 -5v5m1 -4v4m1 -5v6m1 -6v4m1 -4v6m1 -6v7m1 -7v5m1 -5v5m1 -4v4m1 -4v5m1 -5v4m1 -6v5m1 -3v4m1 -5v5m1 -4v4m1 -4v4m1 -4v4m1 -4v3m1 -3v4m1 -4v3m1 -3v5m1 -4v3m1 -3v3m1 -3v6m1 -7v7m1 -7v7m1 -7v5m1 -4v4m1 -12v11m1 -5v5m1 -4v4m1 -4v3m1 -3v5m1 -7v5m1 -4v3m1 -3v5m1 -6v4m1 -6v5m1 -4v5m1 -5v4m1 -4v3m1 -4v2m1 -5v4m1 -10v11m1 -15v6m1 -12v7m1 -14v8m1 -19v12m1 -24v13m1 -19v8m1 -9v9m1 -12v4m1 -5v10m1 -4v11m1 -1v5m1 -1v14m1 -2v9m1 -1v8m1 -1v9m1 -2v4m1 -4v7m1 -1v5m1 -5v7m1 -3v5m1 -6v8m1 -9v4m1 -4v5m1 -4v5m1 -4v4m1 -3v2m1 -1v4m1 -6v5m1 -5v6m1 -4v4m1 -13v13m1 -13v11m1 -3v5m1 -6v5m1 -3v2m1 -4v3m1 -3v4m1 -5v5m1 -4v6m1 -8v7m1 -5v5m1 -6v6m1 -4v4m1 -4v4m1 -4v3m1 -5v4m1 -2v4m1 -5v4m1 -4v5m1 -3v3m1 -7v14m1 -11v5m1 -5v6m1 -7v5m1 -6v7m1 -6v6m1 -5v5m1 -5v5m1 -5v4m1 -4v4m1 -3v3m1 -3v6m1 -6v4m1 -4v3m1 -3v5m1 -6v3m1 -2v3m1 -5v7m1 -8v8m1 -8v7m1 -4v4m1 -4v5m1 -7v7m1 -7v4m1 -3v3m1 -6v5m1 -4v5m1 -3v4m1 -6v6m1 -6v4m1 -5v5m1 -3v3m1 -3v3m1 -5v5m1 -4v4m1 -7v8m1 -3v3m1 -4v5m1 -5v4m1 -3v4m1 -4v5m1 -5v4m1 -13v14m1 -5v5m1 -5v4m1 -4v2m1 -4v5m1 -3v3m1 -1v3m1 -7v7m1 -7v6m1 -5v5m1 -4v5m1 -4v2m1 -2v5m1 -7v6m1 -4v3m1 -4v5m1 -4v4m1 -5v3m1 -2v4m1 -6v6m1 -5v7m1 -6v6m1 -6v4m1 -3v4m1 -5v2m1 -4v8m1 -5v5m1 -7v5m1 -5v6m1 -7v7m1 -7v4m1 -3v5m1 -5v5m1 -5v5m1 -4v4m1 -5v4m1 -3v2m1 -3v4m1 -4v5m1 -5v5m1 -4v4m1 -5v9m1 -9v4m1 -2v2m1 -2v4m1 -6v6m1 -6v7m1 -8v7m1 -5v5m1 -6v5m1 -4v5m1 -6v4m1 -4v6m1 -6v5m1 -5v5m1 -3v3m1 -3v4m1 -5v3m1 -3v4m1 -3v3m1 -5v4m1 -5v5m1 -3v4m1 -4v3m1 -2v4m1 -5v3m1 -2v3m1 -5v5m1 -4v3m1 -2v4m1 -5v5m1 -3v2m1 -4v4m1 -4v4m1 -4v3m1 -3v4m1 -3v3m1 -5v4m1 -4v5m1 -2v3m1 -5v5m1 -5v5m1 -5v6m1 -5v4m1 -4v4m1 -3v2m1 -1v4m1 -5v4m1 -15v16m1 -8v5m1 -3v5m1 -7v7m1 -5v4m1 -3v3m1 -4v5m1 -5v5m1 -6v4m1 -5v4m1 -4v2m1 -2v4m1 -3v3m1 -4v3m1 -3v7m1 -8v5m1 -2v4m1 -5v4m1 -5v6m1 -4v3m1 -3v5m1 -6v5m1 -6v7m1 -4v3m1 -5v6m1 -4v4m1 -5v2m1 -2v3m1 -5v7m1 -7v7m1 -7v3m1 -3v5m1 -5v5m1 -5v3m1 -3v3m1 -1v3m1 -4v4m1 -5v5m1 -3v5m1 -7v4m1 -4v5m1 -7v7m1 -5v4m1 -5v5m1 -4v4m1 -5v4m1 -4v5m1 -5v7m1 -6v2m1 -3v5m1 -6v7m1 -7v8m1 -7v5m1 -7v7m1 -7v7m1 -3v3m1 -6v5m1 -4v5m1 -5v4m1 -6v7m1 -7v8m1 -5v2m1 -5v6m1 -3v4m1 -6v5m1 -4v4m1 -7v5m1 -2v3m1 -4v6m1 -7v7m1 -7v4m1 -4v5m1 -5v5m1 -4v4m1 -5v4m1 -4v4m1 -4v3m1 -4v4m1 -4v7m1 -5v5m1 -6v6m1 -6v9m1 -8v8m1 -7v4m1 -5v4m1 -4v5m1 -3v3m1 -3v3m1 -3v3m1 -5v7m1 -7v7m1 -6v6m1 -5v5m1 -6v4m1 -5v7m1 -7v6m1 -4v5m1 -4v3m1 -3v6m1 -8v8m1 -7v5m1 -5v4m1 -3v6m1 -6v3m1 -2v8m1 -7v4m1 -6v5m1 -4v5m1 -6v4m1 -4v5m1 -4v4m1 -5v3m1 -3v5m1 -6v5m1 -4v4m1 -3v4m1 -6v7m1 -5v3m1 -4v4m1 -4v5m1 -5v5m1 -7v7m1 -5v3m1 -2v4m1 -5v5m1 -3v3m1 -6v6m1 -6v6m1 -4v4m1 -4v6m1 -7v4m1 -2v2m1 -3v2m1 -2v4m1 -5v5m1 -5v3m1 -3v3m1 -2v5m1 -6v5m1 -5v3m1 -2v3m1 -4v4m1 -6v6m1 -5v6m1 -6v6m1 -5v6m1 -6v5m1 -5v5m1 -4v4m1 -4v5m1 -6v4m1 -3v8m1 -9v6m1 -6v6m1 -5v4m1 -4v4m1 -6v7m1 -7v5m1 -5v6m1 -4v2m1 -4v4m1 -3v4m1 -3v3m1 -4v4m1 -5v6m1 -4v4m1 -4v5m1 -7v7m1 -7v5m1 -4v2m1 -2v4m1 -3v4m1 -5v5m1 -5v3m1 -3v3m1 -3v4m1 -3v5m1 -5v2m1 -2v5m1 -5v5m1 -8v6m1 -6v9m1 -5v5m1 -7v6m1 -6v6m1 -5v3m1 -3v3m1 -5v6m1 -6v7m1 -5v5m1 -6v6m1 -7v6m1 -5v4m1 -2v2m1 -5v4m1 -4v5m1 -5v6m1 -5v5m1 -5v5m1 -7v7m1 -5v5m1 -5v5m1 -5v5m1 -4v3m1 -4v4m1 -3v4m1 -4v4m1 -6v6m1 -4v4m1 -4v3m1 -4v8m1 -8v5m1 -4v5m1 -6v6m1 -6v5m1 -5v7m1 -6v6m1 -6v4m1 -4v3m1 -4v4m1 -3v4m1 -4v3m1 -5v6m1 -6v6m1 -6v5m1 -6v6m1 -6v10m1 -5v3m1 -5v6m1 -5v4m1 -7v5m1 -3v5m1 -5v4m1 -5v4m1 -4v6m1 -4v5m1 -8v8m1 -8v6m1 -4v4m1 -4v5m1 -5v4m1 -7v5m1 -5v7m1 -4v3m1 -4v5m1 -3v3m1 -3v3m1 -4v4m1 -5v6m1 -4v4m1 -6v4m1 -3v2m1 -4v4m1 -2v2m1 -4v6m1 -5v5m1 -6v6m1 -6v5m1 -5v6m1 -7v3m1 -5v8m1 -8v7m1 -5v4m1 -4v4m1 -6v8m1 -8v5m1 -3v5m1 -6v6m1 -4v4m1 -7v5m1 -5v4m1 -1v1m1 -5v5m1 -4v4m1 -4v5m1 -6v5m1 -6v6m1 -6v6m1 -5v5m1 -4v4m1 -5v5m1 -7v6m1 -5v4m1 -3v4m1 -4v4m1 -4v4m1 -6v4m1 -4v6m1 -4v3m1 -4v6m1 -6v6m1 -6v6m1 -6v7m1 -4v4m1 -5v5m1 -4v3m1 -5v6m1 -5v5m1 -4v7m1 -7v5m1 -3v3m1 -3v3m1 -3v3m1 -4v2m1 -2v4m1 -4v6m1 -5v5m1 -5v4m1 -6v6m1 -2v1m1 -1v4m1 -4v4m1 -4v4m1 -5v3m1 -3v4m1 -4v3m1 -3v3m1 -3v5m1 -6v4m1 -4v5m1 -3v6m1 -9v9m1 -9v6m1 -1v2m1 -4v7m1 -8v8m1 -8v6m1 -4v4m1 -4v4m1 -5v5m1 -6v6m1 -5v3m1 -4v3m1 -3v2m1 -2v2m1 -2v8m1 -6v6m1 -8v7m1 -7v4m1 -3v4m1 -6v6m1 -6v8m1 -7v3m1 -3v4m1 -4v4m1 -5v7m1 -6v4m1 -4v4m1 -4v5m1 -3v3m1 -4v3m1 -5v5m1 -3v4m1 -5v4m1 -3v4m1 -6v4m1 -2v4m1 -4v3m1 -3v3m1 -5v4m1 -4v4m1 -3v4m1 -2v3m1 -4v4m1 -4v3m1 -5v4m1 -3v4m1 -2v2m1 -3v3m1 -4v4m1 -4v4m1 -3v4m1 -3v2m1 -3v5m1 -4v4m1 -4v2m1 -3v5m1 -6v6m1 -7v6m1 -7v7m1 -5v5m1 -5v4m1 -4v4m1 -3v3m1 -2v3m1 -3v5m1 -8v8m1 -7v6m1 -4v4m1 -4v3m1 -4v4m1 -5v7m1 -7v4m1 -2v2m1 -5v7m1 -7v6m1 -4v5m1 -4v4m1 -5v4m1 -5v4m1 -2v4m1 -8v6m1 -6v8m1 -5v4m1 -5v4m1 -4v5m1 -9v10m1 -4v3m1 -5v5m1 -6v6m1 -6v4m1 -3v2m1 -2v5m1 -7v7m1 -7v6m1 -3v3m1 -5v4m1 -6v8m1 -8v6m1 -2v2m1 -3v3m1 -2v4m1 -5v4m1 -3v4m1 -4v4m1 -4v5m1 -5v5m1 -5v4m1 -6v6m1 -6v10m1 -8v8m1 -8v4m1 -5v5m1 -4v4m1 -4v4m1 -5v6m1 -6v6m1 -5v5m1 -6v5m1 -4v4m1 -3v4m1 -5v5m1 -8v7m1 -5v3m1 -2v4m1 -5v5m1 -5v4m1 -4v5m1 -6v6m1 -6v4m1 -4v5m1 -5v4m1 -5v7m1 -6v6m1 -6v5m1 -5v3m1 -3v5m1 -4v4m1 -4v3m1 -3v2m1 -1v3m1 -6v6m1 -6v5m1 -4v5m1 -5v5m1 -5v3m1 -2v4m1 -6v6m1 -6v5m1 -4v4m1 -3v4m1 -5v5m1 -5v3m1 -3v4m1 -4v4m1 -5v6m1 -6v6m1 -5v5m1 -8v7m1 -7v6m1 -3v4m1 -4v4m1 -4v4m1 -3v3m1 -5v3m1 -3v4m1 -6v5m1 -5v7m1 -5v4m1 -4v4m1 -4v3m1 -4v5m1 -4v4m1 -5v5m1 -5v7m1 -6v4m1 -4v4m1 -5v6m1 -6v5m1 -6v4m1 -3v3" fill="none" stroke="#008080" stroke-width="1" shape-rendering="crispEdges"/>
<path d="M98.5 435v4m1 -5v5m1 -6v5m1 -3v3m1 -4v4m1 -6v5m1 -3v5m1 -3v5m1 -5v4m1 -4v3m1 -3v3m1 -7v7m1 -4v4m1 -5v4m1 -5v5m1 -6v6m1 -5v5m1 -3v2m1 -2v6m1 -8v8m1 -8v8m1 -8v8m1 -8v6m1 -3v4m1 -12v13m1 -4v6m1 -6v3m1 -4v4m1 -5v8m1 -5v6m1 -7v4m1 -5v4m1 -4v7m1 -9v5m1 -6v7m1 -2v7m1 -9v9m1 -9v5m1 -4v4m1 -4v3m1 -3v6m1 -6v5m1 -8v8m1 -4v4m1 -4v4m1 -6v8m1 -8v7m1 -6v4m1 -4v5m1 -6v7m1 -5v3m1 -3v5m1 -4v3m1 -5v9m1 -7v7m1 -8v4m1 -4v6m1 -8v7m1 -5v6m1 -5v9m1 -10v10m1 -12v8m1 -4v6m1 -6v6m1 -7v6m1 -10v8m1 -2v3m1 -4v5m1 -4v3m1 -5v4m1 -5v5m1 -5v5m1 -5v3m1 -3v8m1 -5v4m1 -6v6m1 -5v4m1 -5v5m1 -6v8m1 -10v10m1 -7v7m1 -8v8m1 -7v5m1 -5v5m1 -4v7m1 -10v10m1 -9v6m1 -5v6m1 -6v7m1 -8v8m1 -4v4m1 -4v3m1 -3v4m1 -5v4m1 -2v5m1 -6v6m1 -9v9m1 -7v7m1 -7v7m1 -8v8m1 -7v7m1 -7v6m1 -7v7m1 -5v6m1 -6v5m1 -4v4m1 -6v4m1 -2v4m1 -7v6m1 -5v7m1 -7v5m1 -5v6m1 -4v5m1 -6v5m1 -5v5m1 -3v5m1 -7v6m1 -4v3m1 -4v6m1 -9v8m1 -8v8m1 -8v5m1 -3v4m1 -6v9m1 -9v7m1 -6v7m1 -4v4m1 -4v4m1 -5v7m1 -7v7m1 -7v7m1 -7v5m1 -5v7m1 -10v10m1 -9v9m1 -7v10m1 -8v6m1 -7v5m1 -7v5m1 -2v7m1 -8v8m1 -7v5m1 -5v5m1 -5v4m1 -3v4m1 -2v3m1 -7v6m1 -6v5m1 -7v6m1 -6v6m1 -3v3m1 -5v7m1 -3v4m1 -7v7m1 -9v8m1 -6v6m1 -4v4m1 -7v8m1 -5v4m1 -7v7m1 -7v9m1 -6v4m1 -5v4m1 -3v6m1 -8v10m1 -10v10m1 -7v5m1 -5v4m1 -4v4m1 -8v5m1 -3v5m1 -6v7m1 -9v7m1 -5v7m1 -9v9m1 -3v3m1 -5v4m1 -7v10m1 -7v7m1 -8v4m1 -4v6m1 -2v2m1 -2v3m1 -2v4m1 -13v11m1 -11v15m1 -10v10m1 -9v4m1 -4v4m1 -6v6m1 -3v3m1 -3v4m1 -5v5m1 -7v8m1 -5v7m1 -6v5m1 -10v8m1 -5v5m1 -5v4m1 -4v6m1 -5v6m1 -5v5m1 -9v8m1 -8v11m1 -9v6m1 -5v3m1 -2v3m1 -5v4m1 -3v7m1 -7v7m1 -7v7m1 -8v5m1 -6v6m1 -3v6m1 -9v11m1 -9v9m1 -8v3m1 -3v3m1 -3v7m1 -12v9m1 -9v9m1 -7v7m1 -3v3m1 -3v3m1 -4v5m1 -5v5m1 -7v5m1 -5v5m1 -4v4m1 -3v2m1 -4v9m1 -8v8m1 -6v4m1 -5v6m1 -6v5m1 -6v6m1 -6v6m1 -6v6m1 -5v5m1 -4v4m1 -3v2m1 -4v4m1 -4v5m1 -7v5m1 -2v4m1 -6v7m1 -8v8m1 -4v4m1 -7v6m1 -6v5m1 -7v9m1 -6v5m1 -6v5m1 -5v3m1 -1v3m1 -2v5m1 -6v4m1 -11v11m1 -4v4m1 -7v7m1 -6v7m1 -6v4m1 -6v7m1 -6v3m1 -3v6m1 -8v5m1 -5v9m1 -6v4m1 -4v4m1 -1v2m1 -7v10m1 -10v7m1 -10v10m1 -7v6m1 -3v2m1 -4v5m1 -4v4m1 -4v9m1 -9v8m1 -9v7m1 -7v7m1 -4v4m1 -5v5m1 -7v7m1 -8v7m1 -7v4m1 -3v4m1 -4v4m1 -7v7m1 -9v9m1 -11v8m1 -12v7m1 -12v12m1 -16v7m1 -11v5m1 -17v15m1 -19v6m1 -13v8m1 -16v10m1 -10v7m1 -7v13m1 -12v12m1 -8v10m1 -1v8m1 -6v11m1 -1v7m1 -1v9m1 -3v9m1 -2v9m1 -9v11m1 -6v8m1 -9v10m1 -8v8m1 -6v13m1 -8v2m1 -4v5m1 -5v3m1 -1v3m1 -6v5m1 -4v4m1 -4v7m1 -7v7m1 -6v8m1 -8v6m1 -8v8m1 -8v6m1 -4v4m1 -5v9m1 -7v7m1 -8v5m1 -4v4m1 -6v7m1 -7v6m1 -8v6m1 -3v8m1 -9v9m1 -10v4m1 -2v4m1 -7v7m1 -7v7m1 -4v2m1 -1v3m1 -5v5m1 -4v4m1 -4v5m1 -4v5m1 -5v5m1 -5v4m1 -4v7m1 -8v6m1 -6v7m1 -6v4m1 -7v5m1 -5v9m1 -8v7m1 -9v9m1 -5v4m1 -3v4m1 -6v6m1 -3v4m1 -5v3m1 -3v4m1 -4v7m1 -5v5m1 -7v6m1 -7v7m1 -10v10m1 -7v2m1 -1v2m1 -3v6m1 -6v6m1 -7v8m1 -6v6m1 -5v4m1 -5v4m1 -3v4m1 -4v4m1 -5v5m1 -5v2m1 -1v4m1 -5v3m1 -3v5m1 -5v6m1 -8v5m1 -5v8m1 -8v5m1 -7v8m1 -8v7m1 -3v4m1 -11v11m1 -5v5m1 -7v7m1 -6v4m1 -3v5m1 -5v4m1 -6v6m1 -2v3m1 -5v6m1 -4v4m1 -3v3m1 -4v4m1 -5v7m1 -6v5m1 -5v7m1 -8v6m1 -7v5m1 -4v5m1 -3v2m1 -1v2m1 -5v5m1 -7v5m1 -5v10m1 -9v5m1 -4v4m1 -4v6m1 -8v8m1 -4v4m1 -7v8m1 -6v4m1 -3v8m1 -10v3m1 -3v5m1 -4v4m1 -6v7m1 -8v7m1 -4v4m1 -2v9m1 -12v6m1 -6v6m1 -6v6m1 -4v4m1 -7v5m1 -3v5m1 -4v4m1 -6v5m1 -4v4m1 -5v5m1 -5v3m1 -3v3m1 -3v3m1 -4v5m1 -5v8m1 -8v4m1 -6v7m1 -6v7m1 -5v6m1 -8v6m1 -4v7m1 -8v6m1 -4v3m1 -7v5m1 -4v6m1 -4v3m1 -3v6m1 -6v6m1 -6v7m1 -8v5m1 -3v6m1 -7v4m1 -4v4m1 -4v3m1 -3v6m1 -3v5m1 -9v6m1 -6v8m1 -7v5m1 -5v3m1 -5v6m1 -5v6m1 -6v4m1 -8v11m1 -7v7m1 -6v3m1 -5v9m1 -7v7m1 -7v6m1 -9v7m1 -7v8m1 -6v5m1 -4v4m1 -6v4m1 -2v4m1 -4v5m1 -5v5m1 -4v4m1 -4v2m1 -2v4m1 -4v5m1 -7v6m1 -7v9m1 -9v9m1 -9v8m1 -5v4m1 -4v7m1 -6v5m1 -5v5m1 -7v7m1 -9v7m1 -6v9m1 -10v8m1 -6v7m1 -5v5m1 -9v8m1 -5v4m1 -5v6m1 -6v6m1 -8v8m1 -8v7m1 -8v7m1 -5v5m1 -5v5m1 -8v8m1 -5v7m1 -6v6m1 -5v6m1 -9v6m1 -4v5m1 -7v5m1 -4v7m1 -7v7m1 -8v3m1 -3v6m1 -4v4m1 -6v5m1 -5v5m1 -7v10m1 -6v5m1 -7v4m1 -5v8m1 -7v6m1 -8v10m1 -7v6m1 -5v5m1 -9v6m1 -3v4m1 -3v4m1 -5v3m1 -3v3m1 -5v5m1 -5v9m1 -11v7m1 -2v3m1 -5v8m1 -9v9m1 -9v6m1 -3v3m1 -5v5m1 -4v4m1 -7v4m1 -2v3m1 -3v3m1 -5v7m1 -8v7m1 -7v6m1 -3v5m1 -10v7m1 -5v8m1 -4v3m1 -5v5m1 -5v6m1 -6v7m1 -5v4m1 -6v5m1 -6v8m1 -9v9m1 -7v7m1 -7v6m1 -4v3m1 -4v8m1 -10v10m1 -8v6m1 -7v5m1 -5v6m1 -4v4m1 -6v3m1 -6v10m1 -6v6m1 -6v5m1 -4v4m1 -3v5m1 -5v5m1 -4v4m1 -4v5m1 -7v8m1 -7v5m1 -5v6m1 -5v5m1 -8v8m1 -8v7m1 -5v6m1 -6v5m1 -4v6m1 -6v5m1 -4v5m1 -7v6m1 -7v9m1 -9v8m1 -7v8m1 -7v7m1 -9v9m1 -9v6m1 -6v8m1 -3v6m1 -10v10m1 -10v8m1 -7v6m1 -4v3m1 -4v5m1 -6v8m1 -9v6m1 -5v3m1 -1v3m1 -8v8m1 -8v7m1 -3v5m1 -6v6m1 -4v4m1 -8v6m1 -2v4m1 -4v3m1 -1v1m1 -3v5m1 -8v9m1 -8v5m1 -5v5m1 -5v6m1 -4v7m1 -9v9m1 -10v8m1 -7v4m1 -4v6m1 -8v7m1 -6v8m1 -10v9m1 -7v5m1 -3v5m1 -7v7m1 -5v4m1 -4v5m1 -6v8m1 -8v3m1 -2v5m1 -5v3m1 -6v6m1 -6v8m1 -6v11m1 -11v4m1 -4v3m1 -3v8m1 -9v9m1 -7v5m1 -4v5m1 -4v4m1 -8v8m1 -6v7m1 -6v4m1 -6v5m1 -2v5m1 -7v4m1 -4v6m1 -7v7m1 -4v2m1 -2v3m1 -8v7m1 -6v6m1 -6v3m1 -3v5m1 -3v4m1 -4v3m1 -2v5m1 -5v4m1 -6v9m1 -8v8m1 -9v9m1 -8v10m1 -8v3m1 -6v6m1 -4v5m1 -5v6m1 -14v11m1 -11v11m1 -4v6m1 -7v2m1 -1v6m1 -10v9m1 -9v12m1 -8v8m1 -10v8m1 -7v6m1 -6v10m1 -8v2m1 -4v7m1 -6v6m1 -5v13m1 -17v5m1 -2v10m1 -8v2m1 -3v3m1 -3v1m1 -1v6m1 -7v7m1 -6v4m1 -10v12m1 -12v11m1 -5v5m1 -9v8m1 -8v8m1 -5v4m1 -4v7m1 -9v6m1 -4v3m1 -6v6m1 -6v7m1 -4v6m1 -8v3m1 -2v6m1 -4v4m1 -17v17m1 -10v8m1 -4v3m1 -3v5m1 -8v8m1 -7v10m1 -9v9m1 -9v5m1 -4v5m1 -7v7m1 -6v4m1 -4v4m1 -5v5m1 -3v3m1 -5v6m1 -5v5m1 -7v4m1 -3v5m1 -5v5m1 -4v4m1 -6v6m1 -5v3m1 -3v4m1 -5v9m1 -9v7m1 -5v3m1 -3v4m1 -7v8m1 -8v3m1 -3v6m1 -8v6m1 -6v3m1 -2v5m1 -6v8m1 -7v5m1 -5v6m1 -7v5m1 -5v6m1 -8v7m1 -7v5m1 -6v7m1 -7v6m1 -4v7m1 -8v5m1 -5v6m1 -5v5m1 -6v7m1 -7v6m1 -3v5m1 -6v5m1 -4v4m1 -4v6m1 -4v3m1 -4v5m1 -5v4m1 -4v6m1 -7v5m1 -5v5m1 -2v5m1 -5v3m1 -4v7m1 -7v7m1 -6v5m1 -5v5m1 -4v5m1 -7v6m1 -3v4m1 -6v8m1 -8v8m1 -8v8m1 -8v7m1 -7v4m1 -1v3m1 -6v7m1 -5v5m1 -5v4m1 -4v5m1 -6v6m1 -4v6m1 -7v8m1 -9v7m1 -8v6m1 -6v8m1 -7v9m1 -9v9m1 -8v4m1 -3v4m1 -4v4m1 -5v8m1 -8v5m1 -5v5m1 -6v4m1 -1v4m1 -7v5m1 -5v7m1 -8v8m1 -8v7m1 -5v5m1 -5v6m1 -9v8m1 -5v4m1 -5v6m1 -5v5m1 -4v6m1 -10v10m1 -9v5m1 -5v8m1 -7v7m1 -6v7m1 -6v6m1 -7v6m1 -9v6m1 -4v4m1 -2v7m1 -10v10m1 -10v7m1 -5v5m1 -9v6m1 -6v7m1 -4v3m1 -4v5m1 -5v6m1 -8v8m1 -8v7m1 -4v4m1 -6v6m1 -4v4m1 -4v8m1 -8v6m1 -6v6m1 -4v6m1 -6v6m1 -6v6m1 -5v4m1 -4v3m1 -4v4m1 -4v5m1 -5v4m1 -5v6m1 -5v5m1 -9v8m1 -5v5m1 -7v7m1 -9v9m1 -9v8m1 -6v6m1 -4v6m1 -7v4m1 -6v7m1 -4v5m1 -4v4m1 -5v4m1 -4v4m1 -5v5m1 -4v4m1 -6v7m1 -6v6m1 -10v10m1 -7v7m1 -4v6m1 -12v11m1 -8v7m1 -5v4m1 -6v7m1 -6v6m1 -7v8m1 -7v6m1 -5v4m1 -4v5m1 -5v5m1 -5v5m1 -3v5m1 -7v4m1 -4v5m1 -7v8m1 -8v5m1 -4v4m1 -5v8m1 -5v4m1 -7v9m1 -7v5m1 -8v8m1 -8v6m1 -3v7m1 -7v2m1 -2v5m1 -10v8m1 -8v10m1 -6v4m1 -3v3m1 -3v4m1 -7v5m1 -3v4m1 -4v6m1 -8v9m1 -8v6m1 -4v3m1 -4v5m1 -6v8m1 -8v6m1 -5v6m1 -6v6m1 -6v5m1 -5v3m1 -3v3m1 -2v6m1 -8v5m1 -5v6m1 -2v2m1 -6v9m1 -9v5m1 -3v5m1 -5v5m1 -5v7m1 -7v8m1 -6v6m1 -8v4m1 -4v6m1 -7v5m1 -4v5m1 -6v6m1 -7v6m1 -5v6m1 -4v4m1 -7v7m1 -7v4m1 -4v6m1 -6v5m1 -5v6m1 -5v8m1 -9v4m1 -4v4m1 -1v7m1 -11v6m1 -6v5m1 -5v8m1 -6v6m1 -7v5m1 -6v8m1 -7v7m1 -7v5m1 -4v6m1 -8v8m1 -10v8m1 -7v8m1 -6v6m1 -8v7m1 -5v6m1 -5v6m1 -6v6m1 -8v5m1 -4v6m1 -11v17m1 -17v13m1 -7v8m1 -8v5m1 -4v4" fill="none" stroke="#0000FF" stroke-width="1" shape-rendering="crispEdges"/>
<path d="M98.5 512v6m1 -6v6m1 -3v4m1 -6v5m1 -4v6m1 -6v6m1 -10v9m1 -5v5m1 -8v9m1 -9v9m1 -9v8m1 -6v6m1 -4v3m1 -2v6m1 -6v4m1 -4v6m1 -6v9m1 -9v4m1 -4v6m1 -6v6m1 -7v7m1 -8v7m1 -6v6m1 -6v7m1 -6v7m1 -7v7m1 -5v3m1 -5v7m1 -7v5m1 -5v4m1 -4v8m1 -8v8m1 -8v7m1 -5v6m1 -8v6m1 -6v7m1 -8v8m1 -5v6m1 -9v8m1 -4v4m1 -3v5m1 -6v5m1 -10v10m1 -10v17m1 -14v8m1 -8v8m1 -7v6m1 -5v7m1 -7v8m1 -8v8m1 -8v6m1 -6v5m1 -5v5m1 -5v8m1 -9v6m1 -4v5m1 -5v2m1 -4v7m1 -6v5m1 -4v4m1 -12v14m1 -14v12m1 -5v4m1 -4v8m1 -7v7m1 -8v6m1 -5v4m1 -3v5m1 -7v7m1 -7v7m1 -3v4m1 -5v3m1 -3v5m1 -6v5m1 -5v4m1 -4v5m1 -5v5m1 -3v4m1 -4v3m1 -6v7m1 -9v9m1 -5v5m1 -7v6m1 -5v14m1 -15v9m1 -9v7m1 -7v7m1 -3v3m1 -6v7m1 -7v5m1 -5v5m1 -3v6m1 -6v5m1 -6v3m1 -1v5m1 -7v5m1 -5v5m1 -7v9m1 -7v7m1 -7v5m1 -4v3m1 -5v7m1 -10v7m1 -7v9m1 -6v5m1 -4v6m1 -6v6m1 -6v6m1 -8v8m1 -4v4m1 -5v6m1 -4v3m1 -4v6m1 -6v6m1 -7v5m1 -5v5m1 -3v5m1 -6v7m1 -10v9m1 -6v10m1 -11v6m1 -6v7m1 -5v3m1 -3v6m1 -9v9m1 -3v3m1 -5v4m1 -5v4m1 -6v5m1 -3v5m1 -8v5m1 -3v6m1 -4v2m1 -4v8m1 -11v10m1 -5v5m1 -5v5m1 -7v4m1 -4v4m1 -4v6m1 -5v5m1 -6v7m1 -5v5m1 -8v7m1 -7v7m1 -5v4m1 -4v5m1 -6v8m1 -6v6m1 -6v3m1 -4v4m1 -2v4m1 -7v8m1 -8v7m1 -7v7m1 -6v7m1 -7v6m1 -3v4m1 -5v6m1 -5v5m1 -5v6m1 -7v5m1 -6v8m1 -5v3m1 -5v4m1 -2v4m1 -4v6m1 -8v7m1 -6v3m1 -4v5m1 -6v7m1 -8v8m1 -4v6m1 -7v6m1 -7v7m1 -9v8m1 -8v7m1 -4v7m1 -5v6m1 -9v6m1 -6v3m1 -2v4m1 -6v6m1 -5v9m1 -10v6m1 -4v4m1 -5v8m1 -9v4m1 -4v9m1 -7v7m1 -10v9m1 -3v3m1 -5v4m1 -4v6m1 -8v6m1 -3v3m1 -8v9m1 -4v3m1 -4v5m1 -8v7m1 -6v6m1 -6v6m1 -5v5m1 -3v4m1 -3v4m1 -7v7m1 -5v7m1 -9v9m1 -10v3m1 -2v8m1 -8v6m1 -3v3m1 -5v4m1 -3v3m1 -2v4m1 -6v5m1 -3v3m1 -12v13m1 -3v5m1 -6v3m1 -7v7m1 -7v6m1 -3v5m1 -6v7m1 -6v6m1 -6v5m1 -6v8m1 -6v5m1 -6v5m1 -6v6m1 -3v9m1 -12v6m1 -3v6m1 -6v3m1 -3v4m1 -5v4m1 -5v4m1 -3v5m1 -5v5m1 -5v5m1 -8v8m1 -7v6m1 -5v4m1 -5v7m1 -7v5m1 -4v4m1 -7v8m1 -8v7m1 -5v5m1 -4v6m1 -6v5m1 -8v5m1 -5v6m1 -3v3m1 -7v9m1 -5v4m1 -5v7m1 -5v4m1 -7v8m1 -7v6m1 -7v7m1 -5v4m1 -3v5m1 -5v11m1 -12v12m1 -11v5m1 -7v8m1 -7v7m1 -7v8m1 -11v7m1 -8v8m1 -6v7m1 -6v5m1 -5v6m1 -6v6m1 -6v6m1 -4v4m1 -5v4m1 -4v4m1 -4v5m1 -4v4m1 -4v3m1 -5v3m1 -1v7m1 -6v4m1 -5v3m1 -4v3m1 -4v4m1 -5v7m1 -11v7m1 -8v10m1 -12v7m1 -13v8m1 -14v12m1 -19v10m1 -16v11m1 -16v6m1 -14v9m1 -21v13m1 -16v10m1 -10v10m1 -9v12m1 -6v9m1 -5v14m1 -2v12m1 -5v12m1 -1v8m1 -1v6m1 -2v6m1 -6v14m1 -5v5m1 -5v7m1 -6v5m1 -6v5m1 -5v6m1 -5v7m1 -8v6m1 -3v3m1 -2v4m1 -6v6m1 -6v7m1 -6v4m1 -5v4m1 -3v2m1 -2v6m1 -6v6m1 -6v6m1 -6v9m1 -10v10m1 -12v7m1 -4v10m1 -8v8m1 -11v7m1 -7v6m1 -5v5m1 -7v6m1 -4v5m1 -6v5m1 -5v5m1 -4v3m1 -8v8m1 -4v7m1 -7v7m1 -7v7m1 -7v9m1 -7v2m1 -2v3m1 -5v5m1 -6v7m1 -7v7m1 -5v6m1 -3v3m1 -8v7m1 -7v8m1 -5v6m1 -6v6m1 -7v4m1 -4v7m1 -9v8m1 -8v7m1 -4v3m1 -4v6m1 -8v9m1 -17v19m1 -12v12m1 -10v6m1 -6v5m1 -5v5m1 -1v3m1 -5v8m1 -10v10m1 -9v4m1 -4v6m1 -3v3m1 -5v6m1 -5v5m1 -7v7m1 -7v6m1 -3v5m1 -9v9m1 -9v5m1 -4v8m1 -8v8m1 -6v3m1 -1v3m1 -5v5m1 -4v3m1 -5v7m1 -6v4m1 -6v6m1 -6v3m1 -2v6m1 -8v6m1 -5v5m1 -5v7m1 -8v7m1 -6v6m1 -4v4m1 -6v6m1 -6v6m1 -8v10m1 -6v6m1 -6v5m1 -7v7m1 -6v6m1 -5v8m1 -11v5m1 -3v11m1 -12v6m1 -4v2m1 -5v7m1 -7v8m1 -6v5m1 -8v8m1 -6v7m1 -7v3m1 -2v4m1 -4v4m1 -3v4m1 -6v7m1 -3v4m1 -4v4m1 -5v4m1 -5v5m1 -6v9m1 -9v5m1 -7v8m1 -5v5m1 -8v7m1 -6v7m1 -8v8m1 -8v8m1 -5v3m1 -5v7m1 -7v8m1 -5v5m1 -7v6m1 -6v5m1 -6v6m1 -2v6m1 -12v9m1 -3v7m1 -9v4m1 -5v5m1 -5v6m1 -6v4m1 -3v8m1 -6v3m1 -7v5m1 -3v6m1 -11v10m1 -10v11m1 -6v4m1 -6v8m1 -8v8m1 -7v6m1 -4v4m1 -4v4m1 -6v4m1 -4v8m1 -8v5m1 -4v4m1 -8v8m1 -5v4m1 -4v6m1 -5v5m1 -7v7m1 -5v5m1 -6v6m1 -8v6m1 -3v3m1 -2v3m1 -5v5m1 -3v3m1 -3v5m1 -7v4m1 -4v3m1 -3v4m1 -4v4m1 -3v8m1 -9v5m1 -6v6m1 -3v3m1 -10v12m1 -7v7m1 -7v7m1 -7v6m1 -7v6m1 -6v6m1 -6v7m1 -5v4m1 -6v7m1 -6v4m1 -4v7m1 -6v6m1 -9v6m1 -5v5m1 -3v4m1 -3v5m1 -7v5m1 -5v5m1 -3v4m1 -4v6m1 -7v5m1 -5v5m1 -7v10m1 -10v12m1 -10v8m1 -8v8m1 -9v5m1 -5v4m1 -4v5m1 -8v13m1 -9v4m1 -6v6m1 -5v8m1 -6v4m1 -5v5m1 -6v4m1 -7v7m1 -7v8m1 -3v4m1 -4v7m1 -6v6m1 -10v7m1 -5v6m1 -6v7m1 -7v7m1 -9v6m1 -4v6m1 -6v7m1 -6v5m1 -6v4m1 -4v6m1 -6v5m1 -5v6m1 -10v8m1 -5v6m1 -6v6m1 -5v5m1 -8v5m1 -3v6m1 -7v5m1 -5v8m1 -8v4m1 -7v9m1 -6v6m1 -7v5m1 -5v5m1 -7v5m1 -5v5m1 -7v10m1 -8v11m1 -9v8m1 -9v8m1 -6v6m1 -6v6m1 -8v8m1 -3v2m1 -4v5m1 -6v5m1 -5v7m1 -7v7m1 -4v3m1 -4v3m1 -5v8m1 -6v5m1 -4v7m1 -6v3m1 -5v6m1 -4v4m1 -7v5m1 -2v5m1 -7v5m1 -6v7m1 -7v7m1 -7v6m1 -5v5m1 -4v5m1 -6v4m1 -4v5m1 -4v6m1 -8v10m1 -12v12m1 -12v9m1 -5v7m1 -10v10m1 -10v11m1 -8v7m1 -8v8m1 -7v5m1 -6v8m1 -12v9m1 -4v4m1 -4v4m1 -6v7m1 -6v6m1 -6v8m1 -7v7m1 -10v5m1 -3v7m1 -8v8m1 -8v6m1 -3v4m1 -5v6m1 -5v5m1 -6v4m1 -4v3m1 -2v8m1 -6v3m1 -7v6m1 -5v4m1 -3v3m1 -6v6m1 -5v8m1 -8v6m1 -6v6m1 -4v3m1 -5v6m1 -4v4m1 -8v11m1 -11v11m1 -9v5m1 -5v7m1 -6v5m1 -6v8m1 -8v8m1 -8v6m1 -8v8m1 -4v3m1 -4v4m1 -4v5m1 -10v14m1 -8v4m1 -6v6m1 -6v6m1 -5v4m1 -4v5m1 -3v3m1 -3v4m1 -8v8m1 -8v8m1 -6v6m1 -3v4m1 -5v7m1 -11v7m1 -4v6m1 -6v7m1 -7v7m1 -11v7m1 -5v6m1 -5v5m1 -7v6m1 -2v4m1 -8v8m1 -9v6m1 -3v6m1 -5v6m1 -10v9m1 -11v9m1 -7v8m1 -8v8m1 -8v8m1 -7v7m1 -5v7m1 -8v8m1 -10v6m1 -6v8m1 -6v6m1 -6v6m1 -6v3m1 -5v6m1 -7v7m1 -6v8m1 -8v7m1 -5v4m1 -4v4m1 -3v4m1 -4v4m1 -7v8m1 -8v6m1 -8v8m1 -8v10m1 -8v8m1 -8v5m1 -4v7m1 -10v8m1 -9v8m1 -2v3m1 -6v10m1 -7v5m1 -7v7m1 -7v7m1 -6v4m1 -5v6m1 -5v4m1 -5v5m1 -5v6m1 -8v6m1 -7v10m1 -9v4m1 -4v7m1 -5v7m1 -6v6m1 -6v4m1 -5v5m1 -5v4m1 -5v5m1 -5v7m1 -7v6m1 -6v5m1 -4v8m1 -8v5m1 -3v5m1 -4v4m1 -4v4m1 -7v7m1 -10v10m1 -10v9m1 -10v9m1 -7v8m1 -8v5m1 -5v7m1 -6v6m1 -5v5m1 -6v7m1 -9v11m1 -7v7m1 -6v5m1 -7v6m1 -6v6m1 -6v7m1 -6v3m1 -4v6m1 -7v5m1 -4v6m1 -8v9m1 -7v6m1 -8v8m1 -8v6m1 -5v9m1 -10v6m1 -6v4m1 -4v5m1 -8v10m1 -9v9m1 -8v7m1 -7v6m1 -8v10m1 -8v2m1 -6v6m1 -8v8m1 -3v5m1 -11v9m1 -9v4m1 -5v5m1 -3v3m1 -5v4m1 -6v8m1 -6v5m1 -2v5m1 -5v2m1 -3v7m1 -7v8m1 -11v10m1 -10v12m1 -5v3m1 -3v6m1 -8v6m1 -3v8m1 -10v10m1 -10v9m1 -3v6m1 -9v5m1 -4v4m1 -3v4m1 -8v6m1 -4v6m1 -4v7m1 -6v5m1 -5v4m1 -6v7m1 -14v14m1 -6v6m1 -4v4m1 -3v4m1 -4v4m1 -7v13m1 -16v16m1 -12v10m1 -10v6m1 -6v6m1 -9v7m1 -5v6m1 -6v8m1 -7v5m1 -5v5m1 -5v6m1 -7v6m1 -6v5m1 -3v3m1 -3v5m1 -9v9m1 -5v6m1 -7v4m1 -3v6m1 -7v5m1 -5v3m1 -1v5m1 -6v4m1 -4v5m1 -5v5m1 -4v6m1 -6v6m1 -7v6m1 -6v6m1 -7v7m1 -5v5m1 -7v5m1 -3v6m1 -8v6m1 -7v5m1 -3v4m1 -3v4m1 -4v4m1 -5v6m1 -8v7m1 -5v5m1 -5v5m1 -8v8m1 -7v8m1 -6v4m1 -4v6m1 -7v4m1 -3v4m1 -6v9m1 -9v7m1 -8v6m1 -6v7m1 -5v6m1 -5v8m1 -8v5m1 -6v6m1 -6v8m1 -9v9m1 -7v6m1 -3v4m1 -7v6m1 -8v8m1 -8v9m1 -8v7m1 -7v6m1 -6v4m1 -4v7m1 -6v5m1 -10v8m1 -4v5m1 -5v5m1 -6v10m1 -12v6m1 -6v9m1 -6v4m1 -5v6m1 -4v7m1 -7v4m1 -7v10m1 -10v11m1 -9v4m1 -4v4m1 -4v6m1 -5v6m1 -9v9m1 -7v7m1 -5v5m1 -7v5m1 -5v5m1 -4v7m1 -8v7m1 -7v4m1 -4v6m1 -5v6m1 -5v5m1 -6v5m1 -11v11m1 -11v10m1 -5v5m1 -8v7m1 -7v12m1 -12v10m1 -9v9m1 -6v8m1 -10v6m1 -6v6m1 -4v6m1 -6v6m1 -6v6m1 -6v5m1 -4v4m1 -4v4m1 -2v4m1 -8v6m1 -6v10m1 -10v4m1 -2v5m1 -5v5m1 -6v5m1 -5v5m1 -5v4m1 -6v6m1 -5v7m1 -9v7m1 -4v4m1 -6v7m1 -7v6m1 -4v6m1 -8v9m1 -8v6m1 -6v7m1 -8v8m1 -9v9m1 -9v7m1 -5v5m1 -8v6m1 -2v5m1 -5v6m1 -7v10m1 -10v6m1 -7v8m1 -7v7m1 -7v7m1 -6v6m1 -10v7m1 -7v9m1 -3v4m1 -5v5m1 -6v5m1 -5v4m1 -5v5m1 -5v6m1 -5v6m1 -8v5m1 -7v9m1 -9v9m1 -6v7m1 -7v4m1 -3v7m1 -7v6m1 -4v3m1 -5v6m1 -9v8m1 -8v7m1 -4v4m1 -7v10m1 -10v10m1 -9v9m1 -11v8m1 -6v7m1 -5v4m1 -6v5m1 -7v9m1 -7v7m1 -9v7m1 -3v3m1 -3v6m1 -6v6m1 -5v7m1 -8v10m1 -11v7m1 -9v9m1 -5v4m1 -6v7m1 -5v6m1 -6v4m1 -4v2" fill="none" stroke="#FF0000" stroke-width="1" shape-rendering="crispEdges"/>
<path d="M98.5 642v2m1 -2v2m1 -2v2m1 -2v1m1 -1v1m1 -1v2m1 -2v3m1 -3v2m1 -2v1m1 -1v2m1 -2v2m1 -2v2m1 -2v2m1 -2v2m1 -2v2m1 -2v2m1 -3v3m1 -3v3m1 -1v1m1 -1v1m1 -2v2m1 -1v1m1 -1v1m1 -2v2m1 -1v2m1 -2v1m1 -1v2m1 -2v1m1 -2v3m1 -2v2m1 -2v2m1 -2v2m1 -2v2m1 -2v2m1 -2v2m1 -2v2m1 -2v2m1 -3v3m1 -2v2m1 -2v2m1 -2v2m1 -2v2m1 -2v2m1 -1v1m1 -1v1m1 -2v2m1 -1v1m1 -2v2m1 -1v1m1 -1v2m1 -2v2m1 -2v1m1 -2v2m1 -2v2m1 -2v3m1 -3v2m1 -2v2m1 -1v2m1 -2v2m1 -2v2m1 -2v2m1 -2v2m1 -2v2m1 -2v2m1 -2v2m1 -2v2m1 -2v2m1 -2v2m1 -2v2m1 -2v2m1 -1v1m1 -1v1m1 -1v1m1 -1v2m1 -2v2m1 -2v2m1 -3v2m1 -1v1m1 -2v2m1 -3v3m1 -2v2m1 -1v1m1 -1v2m1 -2v2m1 -2v1m1 -1v1m1 -1v2m1 -2v2m1 -2v2m1 -2v1m1 -1v2m1 -2v2m1 -2v2m1 -2v2m1 -2v2m1 -2v2m1 -2v2m1 -2v2m1 -1v1m1 -2v2m1 -1v2m1 -2v1m1 -2v2m1 -2v2m1 -2v2m1 -1v1m1 -2v2m1 -2v2m1 -1v1m1 -2v2m1 -1v1m1 -1v2m1 -2v1m1 -2v3m1 -3v2m1 -2v2m1 -2v2m1 -1v2m1 -4v4m1 -2v2m1 -2v2m1 -2v1m1 -1v1m1 -1v2m1 -2v2m1 -3v3m1 -2v2m1 -2v2m1 -3v2m1 -1v2m1 -3v3m1 -1v1m1 -2v2m1 -2v2m1 -3v3m1 -2v2m1 -2v2m1 -3v3m1 -2v2m1 -2v2m1 -2v2m1 -2v2m1 -2v2m1 -2v2m1 -2v2m1 -2v2m1 -2v2m1 -2v2m1 -2v3m1 -3v2m1 -1v1m1 -2v2m1 -2v3m1 -3v3m1 -3v3m1 -3v3m1 -3v3m1 -3v2m1 -2v2m1 -2v2m1 -2v2m1 -1v1m1 -1v2m1 -3v3m1 -3v2m1 -2v3m1 -2v1m1 -1v2m1 -2v2m1 -2v2m1 -2v1m1 -1v1m1 -1v2m1 -2v2m1 -2v2m1 -2v2m1 -1v1m1 -2v2m1 -2v2m1 -2v2m1 -2v2m1 -2v2m1 -2v2m1 -2v2m1 -2v2m1 -2v2m1 -2v2m1 -1v2m1 -3v2m1 -2v2m1 -2v2m1 -2v3m1 -2v1m1 -2v2m1 -1v1m1 -2v3m1 -3v3m1 -3v2m1 -2v3m1 -3v2m1 -2v3m1 -2v2m1 -2v1m1 -2v2m1 -1v1m1 -1v1m1 -2v3m1 -3v2m1 -1v2m1 -2v1m1 -2v2m1 -2v2m1 -1v1m1 -2v2m1 -1v1m1 -1v1m1 -2v2m1 -2v2m1 -2v2m1 -3v3m1 -2v2m1 -1v2m1 -3v2m1 -2v2m1 -2v2m1 -1v1m1 -1v1m1 -2v2m1 -2v3m1 -2v2m1 -2v1m1 -1v2m1 -3v2m1 -2v2m1 -2v2m1 -2v2m1 -1v1m1 -1v2m1 -2v1m1 -1v2m1 -3v2m1 -2v2m1 -1v2m1 -2v1m1 -1v1m1 -1v1m1 -2v2m1 -1v1m1 -1v2m1 -3v2m1 -2v2m1 -2v2m1 -1v1m1 -1v2m1 -3v3m1 -2v1m1 -1v2m1 -3v2m1 -2v2m1 -2v2m1 -2v2m1 -2v2m1 -2v3m1 -2v1m1 -1v2m1 -2v1m1 -2v2m1 -2v2m1 -2v2m1 -2v2m1 -2v2m1 -2v2m1 -2v2m1 -2v2m1 -2v1m1 -1v2m1 -2v2m1 -2v2m1 -2v2m1 -2v1m1 -1v2m1 -2v2m1 -2v2m1 -2v2m1 -3v3m1 -2v1m1 -1v2m1 -3v3m1 -3v2m1 -2v2m1 -2v2m1 -2v2m1 -3v2m1 -4v3m1 -3v2m1 -7v6m1 -16v11m1 -34v24m1 -53v30m1 -38v9m1 -4v27m1 -1v26m1 -1v14m1 -1v6m1 -1v3m1 -1v2m1 -1v2m1 -2v2m1 -1v2m1 -2v3m1 -3v3m1 -2v2m1 -2v2m1 -2v2m1 -2v2m1 -2v2m1 -2v2m1 -2v2m1 -1v1m1 -2v2m1 -2v2m1 -2v2m1 -1v2m1 -3v2m1 -1v2m1 -2v2m1 -2v2m1 -2v2m1 -2v2m1 -2v2m1 -2v2m1 -2v1m1 -1v1m1 -2v2m1 -2v2m1 -2v2m1 -2v2m1 -2v3m1 -2v1m1 -2v3m1 -2v2m1 -2v2m1 -2v1m1 -2v2m1 -2v2m1 -2v2m1 -1v1m1 -1v1m1 -1v2m1 -2v2m1 -2v2m1 -3v2m1 -2v2m1 -1v2m1 -3v3m1 -2v2m1 -2v1m1 -1v2m1 -2v2m1 -2v2m1 -2v1m1 -2v2m1 -2v2m1 -1v2m1 -3v3m1 -2v1m1 -1v2m1 -2v1m1 -1v2m1 -2v2m1 -2v1m1 -2v2m1 -2v3m1 -2v2m1 -2v2m1 -2v2m1 -2v2m1 -2v1m1 -1v2m1 -2v2m1 -2v1m1 -2v2m1 -2v2m1 -1v1m1 -2v3m1 -3v3m1 -2v1m1 -1v2m1 -2v2m1 -3v3m1 -2v2m1 -3v3m1 -2v1m1 -1v2m1 -2v2m1 -2v2m1 -2v2m1 -2v2m1 -2v2m1 -2v2m1 -3v2m1 -2v3m1 -2v2m1 -2v2m1 -2v2m1 -2v2m1 -2v2m1 -2v1m1 -1v2m1 -2v2m1 -2v2m1 -2v2m1 -2v2m1 -2v2m1 -2v2m1 -2v2m1 -3v3m1 -2v2m1 -2v2m1 -2v1m1 -1v2m1 -2v2m1 -2v2m1 -2v3m1 -2v1m1 -2v2m1 -2v2m1 -2v2m1 -2v2m1 -2v2m1 -2v2m1 -2v2m1 -2v2m1 -2v2m1 -2v2m1 -2v2m1 -2v2m1 -2v2m1 -2v2m1 -2v2m1 -2v2m1 -2v2m1 -2v2m1 -2v2m1 -2v2m1 -2v2m1 -1v1m1 -2v2m1 -2v2m1 -2v2m1 -2v2m1 -2v2m1 -2v2m1 -2v2m1 -2v2m1 -2v2m1 -2v2m1 -2v2m1 -2v2m1 -2v2m1 -2v2m1 -2v2m1 -2v2m1 -2v2m1 -2v2m1 -2v2m1 -2v2m1 -2v2m1 -2v2m1 -2v2m1 -2v2m1 -2v2m1 -2v2m1 -3v3m1 -2v2m1 -2v3m1 -3v2m1 -2v2m1 -2v2m1 -2v2m1 -1v1m1 -1v1m1 -1v1m1 -2v2m1 -1v1m1 -2v2m1 -2v2m1 -2v3m1 -3v3m1 -3v2m1 -2v2m1 -2v2m1 -2v2m1 -2v2m1 -1v1m1 -2v2m1 -1v1m1 -2v2m1 -2v2m1 -1v2m1 -3v3m1 -3v2m1 -2v2m1 -2v2m1 -2v2m1 -2v2m1 -2v2m1 -2v2m1 -2v2m1 -2v3m1 -2v1m1 -1v1m1 -2v2m1 -2v2m1 -1v2m1 -3v2m1 -2v3m1 -3v2m1 -2v2m1 -2v2m1 -1v1m1 -1v2m1 -3v2m1 -1v1m1 -2v3m1 -4v3m1 -3v4m1 -2v1m1 -2v3m1 -3v2m1 -2v2m1 -2v2m1 -2v3m1 -3v2m1 -2v2m1 -2v2m1 -2v2m1 -2v2m1 -2v2m1 -2v2m1 -2v2m1 -3v3m1 -3v2m1 -3v2m1 -3v2m1 -4v3m1 -3v2m1 -2v3m1 -2v3m1 -1v2m1 -1v3m1 -3v2m1 -1v2m1 -2v2m1 -2v2m1 -2v2m1 -2v2m1 -2v2m1 -1v1m1 -1v1m1 -1v2m1 -2v2m1 -3v2m1 -2v3m1 -2v1m1 -2v2m1 -2v2m1 -1v2m1 -2v2m1 -2v1m1 -1v1m1 -1v1m1 -2v2m1 -2v3m1 -2v1m1 -1v1m1 -1v2m1 -3v3m1 -3v3m1 -2v2m1 -2v1m1 -1v2m1 -3v3m1 -3v2m1 -1v1m1 -2v2m1 -2v2m1 -2v2m1 -2v2m1 -2v3m1 -3v2m1 -2v3m1 -2v2m1 -2v1m1 -2v2m1 -2v3m1 -2v1m1 -2v2m1 -1v2m1 -2v1m1 -1v2m1 -3v3m1 -3v2m1 -1v1m1 -1v1m1 -1v1m1 -2v2m1 -2v2m1 -2v2m1 -2v2m1 -2v2m1 -2v2m1 -2v2m1 -2v2m1 -1v2m1 -3v3m1 -3v3m1 -2v2m1 -2v2m1 -2v1m1 -1v1m1 -1v2m1 -3v3m1 -2v1m1 -1v1m1 -1v2m1 -2v2m1 -3v2m1 -2v3m1 -2v2m1 -2v1m1 -1v1m1 -1v1m1 -1v1m1 -2v2m1 -2v3m1 -2v2m1 -2v1m1 -2v2m1 -1v1m1 -1v2m1 -2v2m1 -2v1m1 -1v2m1 -2v2m1 -2v1m1 -2v2m1 -2v2m1 -1v2m1 -3v2m1 -2v3m1 -2v2m1 -2v2m1 -2v2m1 -2v2m1 -2v2m1 -2v1m1 -1v2m1 -2v2m1 -2v2m1 -2v2m1 -2v2m1 -2v1m1 -1v2m1 -2v2m1 -2v2m1 -2v2m1 -2v2m1 -3v3m1 -2v2m1 -2v2m1 -3v2m1 -1v1m1 -2v3m1 -2v1m1 -2v2m1 -2v2m1 -2v3m1 -2v2m1 -2v2m1 -2v2m1 -2v2m1 -2v1m1 -1v1m1 -1v2m1 -2v1m1 -1v2m1 -2v2m1 -2v1m1 -1v2m1 -2v2m1 -2v2m1 -3v3m1 -2v2m1 -2v1m1 -1v1m1 -1v2m1 -2v2m1 -2v2m1 -2v2m1 -2v2m1 -2v3m1 -4v2m1 -2v2m1 -1v2m1 -2v2m1 -2v2m1 -2v2m1 -3v3m1 -3v3m1 -2v2m1 -2v2m1 -2v2m1 -2v2m1 -2v2m1 -3v3m1 -2v1m1 -2v2m1 -2v2m1 -2v3m1 -3v3m1 -2v1m1 -2v3m1 -2v2m1 -3v3m1 -2v2m1 -2v2m1 -2v2m1 -2v2m1 -2v2m1 -2v2m1 -2v2m1 -2v2m1 -2v1m1 -1v1m1 -1v2m1 -2v2m1 -2v2m1 -2v2m1 -2v2m1 -2v1m1 -2v2m1 -1v2m1 -2v2m1 -2v1m1 -1v1m1 -1v1m1 -2v2m1 -2v3m1 -3v3m1 -3v2m1 -3v2m1 -2v1m1 -3v3m1 -5v3m1 -5v3m1 -4v2m1 -2v2m1 -1v2m1 -1v3m1 -1v3m1 -1v2m1 -1v3m1 -3v3m1 -2v2m1 -2v2m1 -1v2m1 -3v2m1 -1v3m1 -3v3m1 -4v3m1 -2v2m1 -2v2m1 -2v2m1 -3v2m1 -1v1m1 -2v2m1 -2v2m1 -2v3m1 -2v2m1 -2v2m1 -2v2m1 -2v2m1 -2v3m1 -3v2m1 -3v3m1 -2v2m1 -2v1m1 -1v2m1 -2v3m1 -3v3m1 -3v2m1 -2v2m1 -2v2m1 -2v2m1 -2v2m1 -2v2m1 -2v1m1 -1v1m1 -1v2m1 -2v2m1 -2v2m1 -2v2m1 -2v2m1 -2v2m1 -2v2m1 -2v2m1 -2v2m1 -2v2m1 -2v2m1 -2v2m1 -2v2m1 -2v2m1 -2v2m1 -2v2m1 -2v3m1 -3v2m1 -2v2m1 -2v2m1 -2v2m1 -2v2m1 -2v2m1 -1v1m1 -2v2m1 -2v2m1 -2v2m1 -2v2m1 -2v1m1 -1v2m1 -2v2m1 -2v2m1 -2v3m1 -2v1m1 -2v2m1 -2v2m1 -1v2m1 -3v3m1 -3v2m1 -3v3m1 -2v2m1 -3v2m1 -2v2m1 -2v3m1 -2v2m1 -2v2m1 -2v2m1 -2v2m1 -2v1m1 -1v1m1 -1v2m1 -1v1m1 -2v2m1 -2v2m1 -2v2m1 -2v2m1 -2v1m1 -1v1m1 -1v2m1 -3v3m1 -2v1m1 -1v2m1 -2v2m1 -2v2m1 -2v2m1 -1v1m1 -2v3m1 -3v2m1 -2v3m1 -3v2m1 -1v1m1 -2v2m1 -2v2m1 -1v1m1 -2v2m1 -2v2m1 -2v2m1 -2v2m1 -2v2m1 -2v2m1 -2v2m1 -2v2m1 -2v2m1 -2v2m1 -2v2m1 -2v2m1 -2v2m1 -2v2m1 -2v2m1 -2v2m1 -2v2m1 -2v2m1 -2v2m1 -2v2m1 -2v2m1 -2v2m1 -2v2m1 -2v2m1 -2v2m1 -2v2m1 -2v2m1 -2v2m1 -2v3m1 -3v2m1 -2v2m1 -2v2m1 -1v2m1 -3v2m1 -2v2m1 -2v2m1 -2v2m1 -2v2m1 -2v2m1 -2v2m1 -2v3m1 -3v2m1 -1v1m1 -1v1m1 -2v2m1 -2v2m1 -2v2m1 -2v2m1 -1v1m1 -2v2m1 -2v2m1 -2v2m1 -2v2m1 -2v2m1 -2v2m1 -2v2m1 -2v2m1 -2v2m1 -2v2m1 -1v1m1 -2v2m1 -2v1m1 -1v2m1 -2v2m1 -2v3m1 -3v2m1 -2v3m1 -3v2m1 -1v1m1 -2v3m1 -3v2m1 -2v2m1 -2v2m1 -2v2m1 -2v2m1 -2v2m1 -2v2m1 -2v1m1 -1v2m1 -2v1m1 -1v1m1 -3v3m1 -3v2m1 -3v2m1 -3v3m1 -3v2m1 -2v3m1 -2v2m1 -1v2m1 -1v2m1 -1v1m1 -1v2m1 -2v2m1 -2v2m1 -2v2m1 -2v2m1 -2v2m1 -1v1m1 -2v2m1 -1v1m1 -1v1" fill="none" stroke="#000000" stroke-width="1" shape-rendering="crispEdges"/>
<rect x="98.5" y="19.5" width="973" height="711" fill="none" stroke="#000" stroke-width="3"/>
<rect x="97.00" y="731" width="3" height="14.5" fill="#000"/><rect x="109.41" y="731" width="2.5" height="7.5" fill="#000"/><rect x="121.58" y="731" width="2.5" height="7.5" fill="#000"/><rect x="133.74" y="731" width="2.5" height="7.5" fill="#000"/><rect x="145.90" y="731" width="2.5" height="7.5" fill="#000"/><rect x="158.06" y="731" width="2.5" height="7.5" fill="#000"/><rect x="170.22" y="731" width="2.5" height="7.5" fill="#000"/><rect x="182.39" y="731" width="2.5" height="7.5" fill="#000"/><rect x="194.55" y="731" width="2.5" height="7.5" fill="#000"/><rect x="206.71" y="731" width="2.5" height="7.5" fill="#000"/><rect x="218.62" y="731" width="3" height="14.5" fill="#000"/><rect x="231.04" y="731" width="2.5" height="7.5" fill="#000"/><rect x="243.20" y="731" width="2.5" height="7.5" fill="#000"/><rect x="255.36" y="731" width="2.5" height="7.5" fill="#000"/><rect x="267.52" y="731" width="2.5" height="7.5" fill="#000"/><rect x="279.69" y="731" width="2.5" height="7.5" fill="#000"/><rect x="291.85" y="731" width="2.5" height="7.5" fill="#000"/><rect x="304.01" y="731" width="2.5" height="7.5" fill="#000"/><rect x="316.17" y="731" width="2.5" height="7.5" fill="#000"/><rect x="328.34" y="731" width="2.5" height="7.5" fill="#000"/><rect x="340.25" y="731" width="3" height="14.5" fill="#000"/><rect x="352.66" y="731" width="2.5" height="7.5" fill="#000"/><rect x="364.82" y="731" width="2.5" height="7.5" fill="#000"/><rect x="376.99" y="731" width="2.5" height="7.5" fill="#000"/><rect x="389.15" y="731" width="2.5" height="7.5" fill="#000"/><rect x="401.31" y="731" width="2.5" height="7.5" fill="#000"/><rect x="413.47" y="731" width="2.5" height="7.5" fill="#000"/><rect x="425.64" y="731" width="2.5" height="7.5" fill="#000"/><rect x="437.80" y="731" width="2.5" height="7.5" fill="#000"/><rect x="449.96" y="731" width="2.5" height="7.5" fill="#000"/><rect x="461.88" y="731" width="3" height="14.5" fill="#000"/><rect x="474.29" y="731" width="2.5" height="7.5" fill="#000"/><rect x="486.45" y="731" width="2.5" height="7.5" fill="#000"/><rect x="498.61" y="731" width="2.5" height="7.5" fill="#000"/><rect x="510.77" y="731" width="2.5" height="7.5" fill="#000"/><rect x="522.94" y="731" width="2.5" height="7.5" fill="#000"/><rect x="535.10" y="731" width="2.5" height="7.5" fill="#000"/><rect x="547.26" y="731" width="2.5" height="7.5" fill="#000"/><rect x="559.42" y="731" width="2.5" height="7.5" fill="#000"/><rect x="571.59" y="731" width="2.5" height="7.5" fill="#000"/><rect x="583.50" y="731" width="3" height="14.5" fill="#000"/><rect x="595.91" y="731" width="2.5" height="7.5" fill="#000"/><rect x="608.08" y="731" width="2.5" height="7.5" fill="#000"/><rect x="620.24" y="731" width="2.5" height="7.5" fill="#000"/><rect x="632.40" y="731" width="2.5" height="7.5" fill="#000"/><rect x="644.56" y="731" width="2.5" height="7.5" fill="#000"/><rect x="656.73" y="731" width="2.5" height="7.5" fill="#000"/><rect x="668.89" y="731" width="2.5" height="7.5" fill="#000"/><rect x="681.05" y="731" width="2.5" height="7.5" fill="#000"/><rect x="693.21" y="731" width="2.5" height="7.5" fill="#000"/><rect x="705.12" y="731" width="3" height="14.5" fill="#000"/><rect x="717.54" y="731" width="2.5" height="7.5" fill="#000"/><rect x="729.70" y="731" width="2.5" height="7.5" fill="#000"/><rect x="741.86" y="731" width="2.5" height="7.5" fill="#000"/><rect x="754.02" y="731" width="2.5" height="7.5" fill="#000"/><rect x="766.19" y="731" width="2.5" height="7.5" fill="#000"/><rect x="778.35" y="731" width="2.5" height="7.5" fill="#000"/><rect x="790.51" y="731" width="2.5" height="7.5" fill="#000"/><rect x="802.67" y="731" width="2.5" height="7.5" fill="#000"/><rect x="814.84" y="731" width="2.5" height="7.5" fill="#000"/><rect x="826.75" y="731" width="3" height="14.5" fill="#000"/><rect x="839.16" y="731" width="2.5" height="7.5" fill="#000"/><rect x="851.32" y="731" width="2.5" height="7.5" fill="#000"/><rect x="863.49" y="731" width="2.5" height="7.5" fill="#000"/><rect x="875.65" y="731" width="2.5" height="7.5" fill="#000"/><rect x="887.81" y="731" width="2.5" height="7.5" fill="#000"/><rect x="899.98" y="731" width="2.5" height="7.5" fill="#000"/><rect x="912.14" y="731" width="2.5" height="7.5" fill="#000"/><rect x="924.30" y="731" width="2.5" height="7.5" fill="#000"/><rect x="936.46" y="731" width="2.5" height="7.5" fill="#000"/><rect x="948.38" y="731" width="3" height="14.5" fill="#000"/><rect x="960.79" y="731" width="2.5" height="7.5" fill="#000"/><rect x="972.95" y="731" width="2.5" height="7.5" fill="#000"/><rect x="985.11" y="731" width="2.5" height="7.5" fill="#000"/><rect x="997.27" y="731" width="2.5" height="7.5" fill="#000"/><rect x="1009.44" y="731" width="2.5" height="7.5" fill="#000"/><rect x="1021.60" y="731" width="2.5" height="7.5" fill="#000"/><rect x="1033.76" y="731" width="2.5" height="7.5" fill="#000"/><rect x="1045.92" y="731" width="2.5" height="7.5" fill="#000"/><rect x="1058.09" y="731" width="2.5" height="7.5" fill="#000"/><rect x="1070.00" y="731" width="3" height="14.5" fill="#000"/>
<text class="tk" x="97.0" y="775" text-anchor="middle">20</text>
<text class="tk" x="218.6" y="775" text-anchor="middle">30</text>
<text class="tk" x="340.2" y="775" text-anchor="middle">40</text>
<text class="tk" x="461.9" y="775" text-anchor="middle">50</text>
<text class="tk" x="583.5" y="775" text-anchor="middle">60</text>
<text class="tk" x="705.1" y="775" text-anchor="middle">70</text>
<text class="tk" x="826.8" y="775" text-anchor="middle">80</text>
<text class="tk" x="948.4" y="775" text-anchor="middle">90</text>
<text class="tk" x="1070.0" y="775" text-anchor="middle">100</text>
<rect x="383.75" y="382.5" width="2.5" height="17.5" fill="#000"/>
<rect x="471.25" y="382.5" width="2.5" height="17.5" fill="#000"/>
<rect x="762.55" y="382.5" width="2.5" height="17.5" fill="#000"/>
<rect x="956.75" y="382.5" width="2.5" height="17.5" fill="#000"/>
<rect x="1020.75" y="382.5" width="2.5" height="17.5" fill="#000"/>
<rect x="389.75" y="549" width="2.5" height="19" fill="#000"/>
<rect x="396.75" y="549" width="2.5" height="19" fill="#000"/>
<rect x="621.75" y="549" width="2.5" height="19" fill="#000"/>
<rect x="646.95" y="549" width="2.5" height="19" fill="#000"/>
<rect x="836.75" y="549" width="2.5" height="19" fill="#000"/>
<rect x="852.85" y="549" width="2.5" height="19" fill="#000"/>
<rect x="1039.65" y="549" width="2.5" height="19" fill="#000"/>
<rect x="1060.75" y="549" width="2.5" height="19" fill="#000"/>
<rect x="395.20" y="660.3" width="3" height="17.5" fill="#000"/>
<rect x="644.00" y="660.3" width="3" height="17.5" fill="#000"/>
<rect x="854.00" y="660.3" width="3" height="17.5" fill="#000"/>
<rect x="1055.10" y="660.3" width="3" height="17.5" fill="#000"/>
<text class="hk" x="472.1" y="370.6" transform="rotate(-90 472.1 370.6)">(200)</text>
<text class="hk" x="763.4" y="371.4" transform="rotate(-90 763.4 371.4)">(220)</text>
<text class="hk" x="616.6" y="536.4" transform="rotate(-90 616.6 536.4)">(002)</text>
<text class="hk" x="646.9" y="536.3" transform="rotate(-90 646.9 536.3)">(200)</text>
<text class="hk" x="834.6" y="529.4" transform="rotate(-90 834.6 529.4)">(112)</text>
<text class="hk" x="860.2" y="529.0" transform="rotate(-90 860.2 529.0)">(211)</text>
<text class="hk" x="418" y="611" transform="rotate(-90 418 611)">(110)</text>
<text class="hk" x="644" y="645.7" transform="rotate(-90 644 645.7)">(200)</text>
<text class="hk" x="854.5" y="640.6" transform="rotate(-90 854.5 640.6)">(211)</text>
<text class="lb" x="1057.4" y="109" text-anchor="end">50 pulses</text>
<text class="lb" text-anchor="end" transform="translate(1058.9 194.7) scale(0.98 1)">25 pulses</text>
<text class="lb" x="1058.2" y="274.1" text-anchor="end">15 pulses</text>
<text class="lb" x="1060" y="354" text-anchor="end">8 pulses</text>
<text class="lb" x="1058.9" y="437" text-anchor="end">3 pulses</text>
<text class="lb" x="1046.1" y="516" text-anchor="end">1 pulse</text>
<text class="lb" x="1045.6" y="627.3" text-anchor="end">initial</text>
<text class="gr" x="171.8" y="407" font-size="35" stroke="#000" stroke-width="0.6">γ</text><text x="185.8" y="407" font-size="26">-Fe</text>
<text class="gr" font-size="33" stroke="#000" stroke-width="0.35" transform="translate(163.8 570) scale(1.28 1)">α</text>
<text class="gr" font-size="40" font-weight="bold" transform="translate(181.2 573) skewX(-12)">′</text><text x="194.5" y="570" font-size="26">-Fe</text>
<text class="gr" font-size="33" stroke="#000" stroke-width="0.35" transform="translate(167.1 681) scale(1.28 1)">α</text><text x="188.4" y="681" font-size="26">-Fe</text>
<text x="45.3" y="507.7" font-size="34" font-weight="bold" transform="rotate(-90 45.3 507.7)">Intensity(a.u.)</text>
<text x="477.2" y="839" font-size="42" font-weight="bold">2</text>
<text class="gr" font-size="38" transform="translate(499.6 839) scale(1.27 1)">θ</text>
<text class="gr" font-size="38" transform="translate(520.2 839) scale(1.3 1)">(</text>
<text x="533.9" y="839" font-size="42" font-weight="bold">Degree</text>
<text class="gr" font-size="38" transform="translate(677.2 839) scale(1.25 1)">)</text>
</svg></body></html>
